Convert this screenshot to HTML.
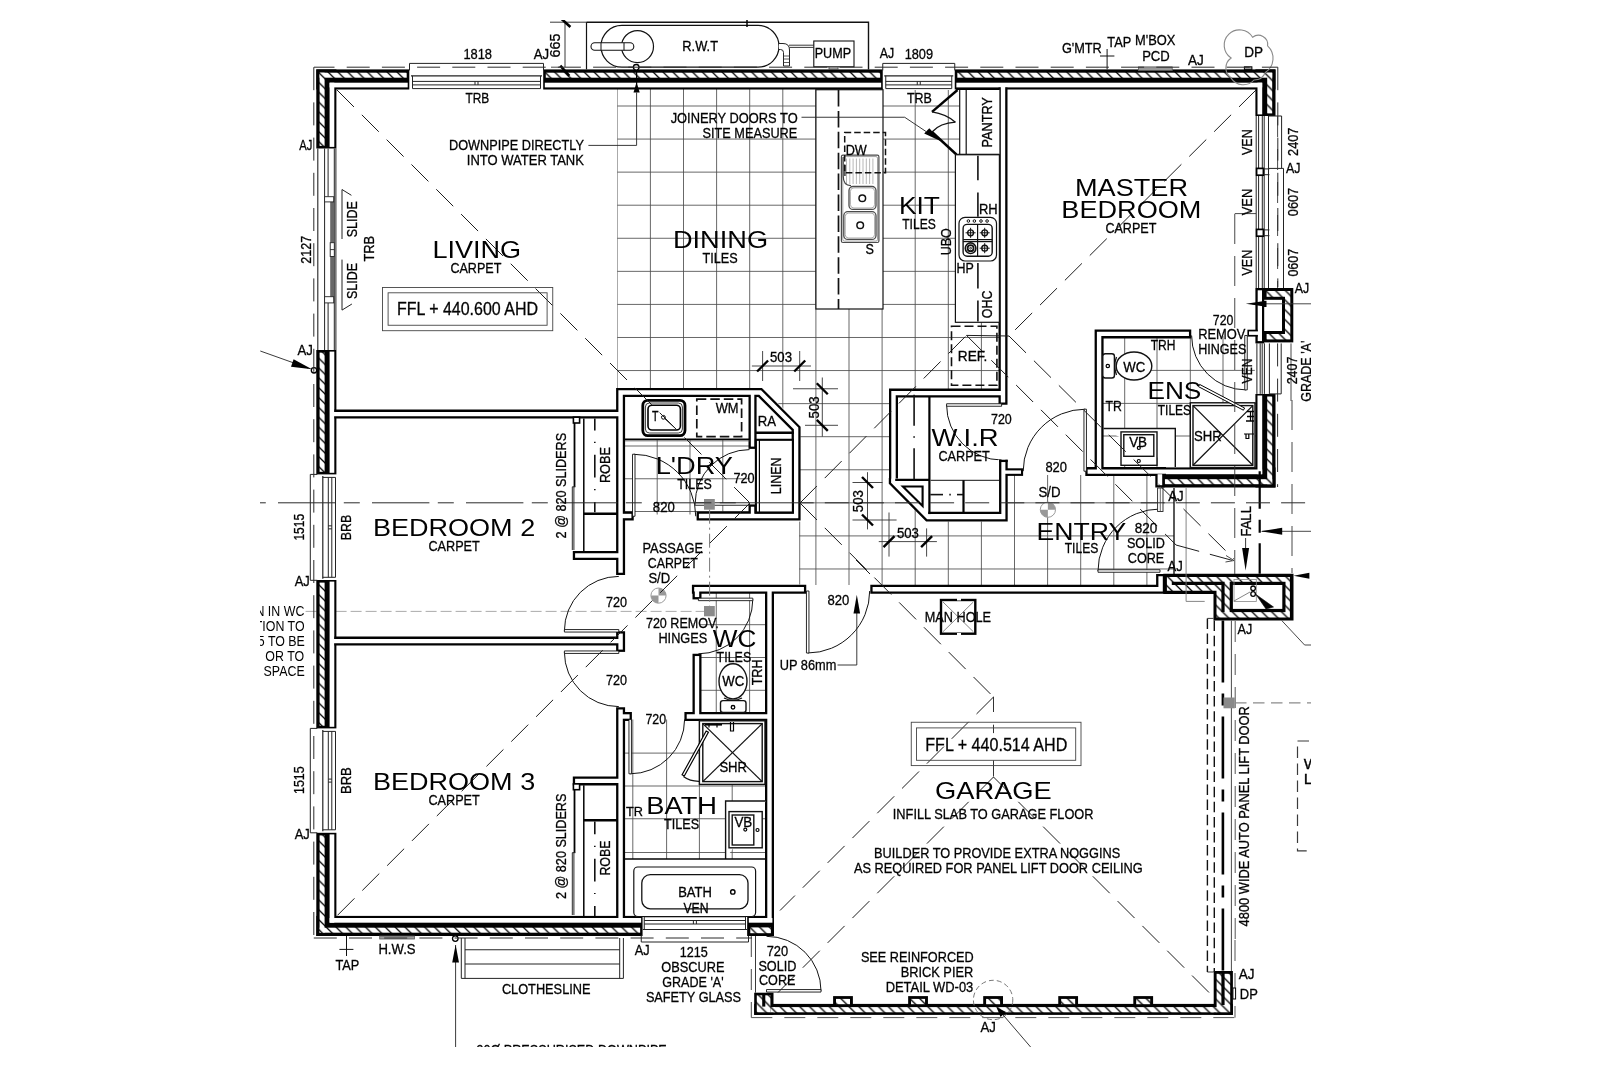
<!DOCTYPE html>
<html><head><meta charset="utf-8"><title>Floor Plan</title>
<style>
html,body{margin:0;padding:0;background:#fff;}
body{width:1600px;height:1067px;overflow:hidden;font-family:"Liberation Sans",sans-serif;}
svg{display:block;}
svg text{font-family:"Liberation Sans",sans-serif;}
</style></head><body>
<svg width="1600" height="1067" viewBox="0 0 1600 1067">
<defs>
<pattern id="h" width="9.85" height="9.85" patternUnits="userSpaceOnUse">
<rect width="9.85" height="9.85" fill="#fff"/>
<path d="M-1,-1 L10.85,10.85 M-1,8.85 L1,10.85 M8.85,-1 L10.85,1" stroke="#000" stroke-width="1.25" fill="none"/>
</pattern>
<clipPath id="clipAll"><rect x="260.2" y="20" width="1050.6" height="1027"/></clipPath>
<clipPath id="cm"><path d="M617.3,88 H999 V389 H889 V483.4 L926,520 H1007.2 V475 H1174 V585 H799.2 V520.6 L800.6,425.3 L763.1,388.75 H617.3 Z"/></clipPath>
<clipPath id="cl"><path d="M623.8,439.4 H749.6 V514.4 H623.8 Z"/></clipPath>
<clipPath id="ce"><path d="M1101.6,336.5 H1256.9 V468.4 H1101.6 Z"/></clipPath>
<clipPath id="cw"><path d="M699.4,592.25 H766 V712.8 H699.4 Z"/></clipPath>
<clipPath id="cb"><path d="M623.8,719.4 H766 V859 H623.8 Z"/></clipPath>
</defs>
<rect width="1600" height="1067" fill="#fff"/>
<g clip-path="url(#clipAll)" opacity="0.996">
<g clip-path="url(#cm)" stroke="#4c4c4c" stroke-width="0.85">
<line x1="617.3" y1="0" x2="617.3" y2="1067"/>
<line x1="650.4" y1="0" x2="650.4" y2="1067"/>
<line x1="683.5" y1="0" x2="683.5" y2="1067"/>
<line x1="716.6" y1="0" x2="716.6" y2="1067"/>
<line x1="749.7" y1="0" x2="749.7" y2="1067"/>
<line x1="782.8" y1="0" x2="782.8" y2="1067"/>
<line x1="815.9" y1="0" x2="815.9" y2="1067"/>
<line x1="849" y1="0" x2="849" y2="1067"/>
<line x1="882.1" y1="0" x2="882.1" y2="1067"/>
<line x1="915.2" y1="0" x2="915.2" y2="1067"/>
<line x1="948.3" y1="0" x2="948.3" y2="1067"/>
<line x1="981.4" y1="0" x2="981.4" y2="1067"/>
<line x1="1014.5" y1="0" x2="1014.5" y2="1067"/>
<line x1="1047.6" y1="0" x2="1047.6" y2="1067"/>
<line x1="1080.7" y1="0" x2="1080.7" y2="1067"/>
<line x1="1113.8" y1="0" x2="1113.8" y2="1067"/>
<line x1="1146.9" y1="0" x2="1146.9" y2="1067"/>
<line x1="1180" y1="0" x2="1180" y2="1067"/>
<line x1="0" y1="106" x2="1600" y2="106"/>
<line x1="0" y1="139.07" x2="1600" y2="139.07"/>
<line x1="0" y1="172.14" x2="1600" y2="172.14"/>
<line x1="0" y1="205.21" x2="1600" y2="205.21"/>
<line x1="0" y1="238.28" x2="1600" y2="238.28"/>
<line x1="0" y1="271.35" x2="1600" y2="271.35"/>
<line x1="0" y1="304.42" x2="1600" y2="304.42"/>
<line x1="0" y1="337.49" x2="1600" y2="337.49"/>
<line x1="0" y1="370.56" x2="1600" y2="370.56"/>
<line x1="0" y1="403.63" x2="1600" y2="403.63"/>
<line x1="0" y1="436.7" x2="1600" y2="436.7"/>
<line x1="0" y1="469.77" x2="1600" y2="469.77"/>
<line x1="0" y1="502.84" x2="1600" y2="502.84"/>
<line x1="0" y1="535.91" x2="1600" y2="535.91"/>
<line x1="0" y1="568.98" x2="1600" y2="568.98"/>
<line x1="0" y1="602.05" x2="1600" y2="602.05"/>
</g>
<g clip-path="url(#cl)" stroke="#4c4c4c" stroke-width="0.85">
<line x1="657.2" y1="0" x2="657.2" y2="1067"/>
<line x1="690" y1="0" x2="690" y2="1067"/>
<line x1="722.8" y1="0" x2="722.8" y2="1067"/>
<line x1="0" y1="446" x2="1600" y2="446"/>
<line x1="0" y1="478.75" x2="1600" y2="478.75"/>
<line x1="0" y1="511.5" x2="1600" y2="511.5"/>
</g>
<g clip-path="url(#ce)" stroke="#4c4c4c" stroke-width="0.85">
<line x1="1124.7" y1="0" x2="1124.7" y2="1067"/>
<line x1="1157" y1="0" x2="1157" y2="1067"/>
<line x1="1190.3" y1="0" x2="1190.3" y2="1067"/>
<line x1="1223" y1="0" x2="1223" y2="1067"/>
<line x1="0" y1="370.4" x2="1600" y2="370.4"/>
<line x1="0" y1="403.4" x2="1600" y2="403.4"/>
<line x1="0" y1="436" x2="1600" y2="436"/>
</g>
<g clip-path="url(#cw)" stroke="#4c4c4c" stroke-width="0.85">
<line x1="716.25" y1="0" x2="716.25" y2="1067"/>
<line x1="749.6" y1="0" x2="749.6" y2="1067"/>
<line x1="0" y1="624.7" x2="1600" y2="624.7"/>
<line x1="0" y1="657.5" x2="1600" y2="657.5"/>
<line x1="0" y1="690.3" x2="1600" y2="690.3"/>
</g>
<g clip-path="url(#cb)" stroke="#4c4c4c" stroke-width="0.85">
<line x1="632.8" y1="0" x2="632.8" y2="1067"/>
<line x1="666.6" y1="0" x2="666.6" y2="1067"/>
<line x1="699.4" y1="0" x2="699.4" y2="1067"/>
<line x1="732.2" y1="0" x2="732.2" y2="1067"/>
<line x1="0" y1="753.1" x2="1600" y2="753.1"/>
<line x1="0" y1="786" x2="1600" y2="786"/>
<line x1="0" y1="818.75" x2="1600" y2="818.75"/>
<line x1="0" y1="852.5" x2="1600" y2="852.5"/>
</g>
<line x1="305.6" y1="611.4" x2="704" y2="611.4" stroke="#a0a0a0" stroke-width="0.9" stroke-dasharray="11 4"/>
<rect x="316.3" y="69.4" width="93" height="20.1" stroke="none" stroke-width="0" fill="#000"/>
<rect x="543.2" y="69.4" width="339.55" height="20.1" stroke="none" stroke-width="0" fill="#000"/>
<rect x="954.75" y="69.4" width="320.75" height="20.1" stroke="none" stroke-width="0" fill="#000"/>
<rect x="316.3" y="69.4" width="20.1" height="79.1" stroke="none" stroke-width="0" fill="#000"/>
<rect x="316.3" y="350" width="20.1" height="124.4" stroke="none" stroke-width="0" fill="#000"/>
<rect x="316.3" y="580" width="20.1" height="148.4" stroke="none" stroke-width="0" fill="#000"/>
<rect x="316.3" y="832.8" width="20.1" height="103.2" stroke="none" stroke-width="0" fill="#000"/>
<rect x="316.3" y="915.9" width="326.45" height="20.1" stroke="none" stroke-width="0" fill="#000"/>
<rect x="747.2" y="915.9" width="26.8" height="20.1" stroke="none" stroke-width="0" fill="#000"/>
<rect x="1255.4" y="69.4" width="20.1" height="46.6" stroke="none" stroke-width="0" fill="#000"/>
<rect x="1255.4" y="393.9" width="20.1" height="93.6" stroke="none" stroke-width="0" fill="#000"/>
<rect x="1162.2" y="467.4" width="113.3" height="20.1" stroke="none" stroke-width="0" fill="#000"/>
<rect x="319.6" y="72.7" width="87.1" height="5" stroke="none" stroke-width="0" fill="url(#h)"/>
<rect x="545.8" y="72.7" width="334.35" height="5" stroke="none" stroke-width="0" fill="url(#h)"/>
<rect x="957.35" y="72.7" width="314.85" height="5" stroke="none" stroke-width="0" fill="url(#h)"/>
<rect x="319.6" y="72.7" width="5" height="73.2" stroke="none" stroke-width="0" fill="url(#h)"/>
<rect x="319.6" y="352.6" width="5" height="119.2" stroke="none" stroke-width="0" fill="url(#h)"/>
<rect x="319.6" y="582.6" width="5" height="143.2" stroke="none" stroke-width="0" fill="url(#h)"/>
<rect x="319.6" y="835.4" width="5" height="97.3" stroke="none" stroke-width="0" fill="url(#h)"/>
<rect x="319.6" y="927.7" width="320.55" height="5" stroke="none" stroke-width="0" fill="url(#h)"/>
<rect x="749.8" y="927.7" width="21.6" height="5" stroke="none" stroke-width="0" fill="url(#h)"/>
<rect x="1267.2" y="72.7" width="5" height="40.7" stroke="none" stroke-width="0" fill="url(#h)"/>
<rect x="1267.2" y="396.5" width="5" height="87.7" stroke="none" stroke-width="0" fill="url(#h)"/>
<rect x="1164.8" y="479.2" width="107.4" height="5" stroke="none" stroke-width="0" fill="url(#h)"/>
<rect x="329.6" y="82.7" width="78.1" height="4.7" stroke="none" stroke-width="0" fill="#fff"/>
<rect x="544.8" y="82.7" width="336.35" height="4.7" stroke="none" stroke-width="0" fill="#fff"/>
<rect x="956.35" y="82.7" width="305.85" height="4.7" stroke="none" stroke-width="0" fill="#fff"/>
<rect x="329.6" y="82.7" width="4.7" height="64.2" stroke="none" stroke-width="0" fill="#fff"/>
<rect x="329.6" y="351.6" width="4.7" height="121.2" stroke="none" stroke-width="0" fill="#fff"/>
<rect x="329.6" y="581.6" width="4.7" height="145.2" stroke="none" stroke-width="0" fill="#fff"/>
<rect x="329.6" y="834.4" width="4.7" height="88.3" stroke="none" stroke-width="0" fill="#fff"/>
<rect x="329.6" y="918" width="311.55" height="4.7" stroke="none" stroke-width="0" fill="#fff"/>
<rect x="748.8" y="918" width="23.6" height="4.7" stroke="none" stroke-width="0" fill="#fff"/>
<rect x="1257.5" y="82.7" width="4.7" height="31.7" stroke="none" stroke-width="0" fill="#fff"/>
<rect x="1257.5" y="395.5" width="4.7" height="78.7" stroke="none" stroke-width="0" fill="#fff"/>
<rect x="1163.8" y="469.5" width="98.4" height="4.7" stroke="none" stroke-width="0" fill="#fff"/>
<path d="M334.4,414.1 L620.6,414.1" stroke="#000" stroke-width="9" fill="none" stroke-linejoin="miter" stroke-miterlimit="10"/>
<path d="M620.6,575 L620.6,392.5 L760.1,392.5 L796.1,428.5 L796.1,516 L696.6,516" stroke="#000" stroke-width="9" fill="none" stroke-linejoin="miter" stroke-miterlimit="10"/>
<path d="M752.55,392.5 L752.55,448.9" stroke="#000" stroke-width="8.1" fill="none" stroke-linejoin="miter" stroke-miterlimit="10"/>
<path d="M752.55,516 L752.55,504.4" stroke="#000" stroke-width="8.1" fill="none" stroke-linejoin="miter" stroke-miterlimit="10"/>
<path d="M620.6,516 L633.75,516" stroke="#000" stroke-width="9" fill="none" stroke-linejoin="miter" stroke-miterlimit="10"/>
<path d="M572.8,555.5 L620.6,555.5" stroke="#000" stroke-width="9" fill="none" stroke-linejoin="miter" stroke-miterlimit="10"/>
<path d="M334.4,641.1 L620.6,641.1" stroke="#000" stroke-width="9" fill="none" stroke-linejoin="miter" stroke-miterlimit="10"/>
<path d="M620.6,631.25 L620.6,651.9" stroke="#000" stroke-width="9" fill="none" stroke-linejoin="miter" stroke-miterlimit="10"/>
<path d="M620.6,707.2 L620.6,917.9" stroke="#000" stroke-width="9" fill="none" stroke-linejoin="miter" stroke-miterlimit="10"/>
<path d="M572.8,780.9 L620.6,780.9" stroke="#000" stroke-width="9" fill="none" stroke-linejoin="miter" stroke-miterlimit="10"/>
<path d="M620.6,716.5 L631.9,716.5" stroke="#000" stroke-width="9" fill="none" stroke-linejoin="miter" stroke-miterlimit="10"/>
<path d="M691.9,589.2 L806.25,589.2" stroke="#000" stroke-width="9" fill="none" stroke-linejoin="miter" stroke-miterlimit="10"/>
<path d="M697,589.2 L697,599.4" stroke="#000" stroke-width="9" fill="none" stroke-linejoin="miter" stroke-miterlimit="10"/>
<path d="M697,653.75 L697,716.5" stroke="#000" stroke-width="9" fill="none" stroke-linejoin="miter" stroke-miterlimit="10"/>
<path d="M684.4,716.5 L769.5,716.5" stroke="#000" stroke-width="9" fill="none" stroke-linejoin="miter" stroke-miterlimit="10"/>
<path d="M769.5,589.2 L769.5,917.9" stroke="#000" stroke-width="9" fill="none" stroke-linejoin="miter" stroke-miterlimit="10"/>
<path d="M870.3,589.2 L1160.6,589.2 L1160.6,574" stroke="#000" stroke-width="9" fill="none" stroke-linejoin="miter" stroke-miterlimit="10"/>
<path d="M1003,87.4 L1003,404.7" stroke="#000" stroke-width="9" fill="none" stroke-linejoin="miter" stroke-miterlimit="10"/>
<path d="M1003,393.1 L893.5,393.1 L893.5,481" stroke="#000" stroke-width="9" fill="none" stroke-linejoin="miter" stroke-miterlimit="10"/>
<path d="M1191.25,333.9 L1099.1,333.9 L1099.1,471.6" stroke="#000" stroke-width="9" fill="none" stroke-linejoin="miter" stroke-miterlimit="10"/>
<path d="M1085.3,471.6 L1166,471.6" stroke="#000" stroke-width="9" fill="none" stroke-linejoin="miter" stroke-miterlimit="10"/>
<path d="M332,414.1 L620.6,414.1" stroke="#fff" stroke-width="4.4" fill="none" stroke-linejoin="miter" stroke-miterlimit="10"/>
<path d="M620.6,572.7 L620.6,392.5 L760.1,392.5 L796.1,428.5 L796.1,516 L698.9,516" stroke="#fff" stroke-width="4.4" fill="none" stroke-linejoin="miter" stroke-miterlimit="10"/>
<path d="M752.55,392.5 L752.55,446.6" stroke="#fff" stroke-width="3.5" fill="none" stroke-linejoin="miter" stroke-miterlimit="10"/>
<path d="M752.55,516 L752.55,506.7" stroke="#fff" stroke-width="3.5" fill="none" stroke-linejoin="miter" stroke-miterlimit="10"/>
<path d="M620.6,516 L631.45,516" stroke="#fff" stroke-width="4.4" fill="none" stroke-linejoin="miter" stroke-miterlimit="10"/>
<path d="M575.1,555.5 L620.6,555.5" stroke="#fff" stroke-width="4.4" fill="none" stroke-linejoin="miter" stroke-miterlimit="10"/>
<path d="M332,641.1 L620.6,641.1" stroke="#fff" stroke-width="4.4" fill="none" stroke-linejoin="miter" stroke-miterlimit="10"/>
<path d="M620.6,633.55 L620.6,649.6" stroke="#fff" stroke-width="4.4" fill="none" stroke-linejoin="miter" stroke-miterlimit="10"/>
<path d="M620.6,709.5 L620.6,920.3" stroke="#fff" stroke-width="4.4" fill="none" stroke-linejoin="miter" stroke-miterlimit="10"/>
<path d="M575.1,780.9 L620.6,780.9" stroke="#fff" stroke-width="4.4" fill="none" stroke-linejoin="miter" stroke-miterlimit="10"/>
<path d="M620.6,716.5 L629.6,716.5" stroke="#fff" stroke-width="4.4" fill="none" stroke-linejoin="miter" stroke-miterlimit="10"/>
<path d="M694.2,589.2 L803.95,589.2" stroke="#fff" stroke-width="4.4" fill="none" stroke-linejoin="miter" stroke-miterlimit="10"/>
<path d="M697,589.2 L697,597.1" stroke="#fff" stroke-width="4.4" fill="none" stroke-linejoin="miter" stroke-miterlimit="10"/>
<path d="M697,656.05 L697,716.5" stroke="#fff" stroke-width="4.4" fill="none" stroke-linejoin="miter" stroke-miterlimit="10"/>
<path d="M686.7,716.5 L769.5,716.5" stroke="#fff" stroke-width="4.4" fill="none" stroke-linejoin="miter" stroke-miterlimit="10"/>
<path d="M769.5,589.2 L769.5,920.3" stroke="#fff" stroke-width="4.4" fill="none" stroke-linejoin="miter" stroke-miterlimit="10"/>
<path d="M872.6,589.2 L1160.6,589.2 L1160.6,576.3" stroke="#fff" stroke-width="4.4" fill="none" stroke-linejoin="miter" stroke-miterlimit="10"/>
<path d="M1003,85 L1003,402.4" stroke="#fff" stroke-width="4.4" fill="none" stroke-linejoin="miter" stroke-miterlimit="10"/>
<path d="M1003,393.1 L893.5,393.1 L893.5,481" stroke="#fff" stroke-width="4.4" fill="none" stroke-linejoin="miter" stroke-miterlimit="10"/>
<path d="M1188.95,333.9 L1099.1,333.9 L1099.1,471.6" stroke="#fff" stroke-width="4.4" fill="none" stroke-linejoin="miter" stroke-miterlimit="10"/>
<path d="M1087.6,471.6 L1166,471.6" stroke="#fff" stroke-width="4.4" fill="none" stroke-linejoin="miter" stroke-miterlimit="10"/>
<rect x="411" y="68.9" width="131" height="21.1" stroke="none" stroke-width="0" fill="#fff"/>
<line x1="409.5" y1="63.4" x2="543.5" y2="63.4" stroke="#222" stroke-width="1"/>
<line x1="409.5" y1="63.4" x2="409.5" y2="70.4" stroke="#222" stroke-width="1"/>
<line x1="543.5" y1="63.4" x2="543.5" y2="70.4" stroke="#222" stroke-width="1"/>
<line x1="411" y1="75.9" x2="542" y2="75.9" stroke="#222" stroke-width="1.2"/>
<line x1="412.5" y1="81.4" x2="540.5" y2="81.4" stroke="#222" stroke-width="1"/>
<line x1="412.5" y1="84.9" x2="540.5" y2="84.9" stroke="#222" stroke-width="1"/>
<line x1="412.5" y1="88.6" x2="540.5" y2="88.6" stroke="#222" stroke-width="1"/>
<line x1="412.5" y1="75.9" x2="412.5" y2="88.6" stroke="#222" stroke-width="1"/>
<line x1="540.5" y1="75.9" x2="540.5" y2="88.6" stroke="#222" stroke-width="1"/>
<line x1="475" y1="81.4" x2="475" y2="84.9" stroke="#222" stroke-width="1"/>
<line x1="478" y1="81.4" x2="478" y2="84.9" stroke="#222" stroke-width="1"/>
<rect x="884.25" y="68.9" width="69" height="21.1" stroke="none" stroke-width="0" fill="#fff"/>
<line x1="882.75" y1="63.4" x2="954.75" y2="63.4" stroke="#222" stroke-width="1"/>
<line x1="882.75" y1="63.4" x2="882.75" y2="70.4" stroke="#222" stroke-width="1"/>
<line x1="954.75" y1="63.4" x2="954.75" y2="70.4" stroke="#222" stroke-width="1"/>
<line x1="884.25" y1="75.9" x2="953.25" y2="75.9" stroke="#222" stroke-width="1.2"/>
<line x1="885.75" y1="81.4" x2="951.75" y2="81.4" stroke="#222" stroke-width="1"/>
<line x1="885.75" y1="84.9" x2="951.75" y2="84.9" stroke="#222" stroke-width="1"/>
<line x1="885.75" y1="88.6" x2="951.75" y2="88.6" stroke="#222" stroke-width="1"/>
<line x1="885.75" y1="75.9" x2="885.75" y2="88.6" stroke="#222" stroke-width="1"/>
<line x1="951.75" y1="75.9" x2="951.75" y2="88.6" stroke="#222" stroke-width="1"/>
<line x1="917.25" y1="81.4" x2="917.25" y2="84.9" stroke="#222" stroke-width="1"/>
<line x1="920.25" y1="81.4" x2="920.25" y2="84.9" stroke="#222" stroke-width="1"/>
<rect x="315.8" y="475.9" width="21.1" height="102.9" stroke="none" stroke-width="0" fill="#fff"/>
<line x1="310.3" y1="474.4" x2="310.3" y2="580.3" stroke="#222" stroke-width="1"/>
<line x1="310.3" y1="474.4" x2="317.3" y2="474.4" stroke="#222" stroke-width="1"/>
<line x1="310.3" y1="580.3" x2="317.3" y2="580.3" stroke="#222" stroke-width="1"/>
<line x1="322.8" y1="475.9" x2="322.8" y2="578.8" stroke="#222" stroke-width="1.2"/>
<line x1="328.3" y1="477.4" x2="328.3" y2="577.3" stroke="#222" stroke-width="1"/>
<line x1="331.8" y1="477.4" x2="331.8" y2="577.3" stroke="#222" stroke-width="1"/>
<line x1="335.5" y1="477.4" x2="335.5" y2="577.3" stroke="#222" stroke-width="1"/>
<line x1="322.8" y1="477.4" x2="335.5" y2="477.4" stroke="#222" stroke-width="1"/>
<line x1="322.8" y1="577.3" x2="335.5" y2="577.3" stroke="#222" stroke-width="1"/>
<line x1="328.3" y1="525.85" x2="331.8" y2="525.85" stroke="#222" stroke-width="1"/>
<line x1="328.3" y1="528.85" x2="331.8" y2="528.85" stroke="#222" stroke-width="1"/>
<rect x="315.8" y="729.9" width="21.1" height="101.4" stroke="none" stroke-width="0" fill="#fff"/>
<line x1="310.3" y1="728.4" x2="310.3" y2="832.8" stroke="#222" stroke-width="1"/>
<line x1="310.3" y1="728.4" x2="317.3" y2="728.4" stroke="#222" stroke-width="1"/>
<line x1="310.3" y1="832.8" x2="317.3" y2="832.8" stroke="#222" stroke-width="1"/>
<line x1="322.8" y1="729.9" x2="322.8" y2="831.3" stroke="#222" stroke-width="1.2"/>
<line x1="328.3" y1="731.4" x2="328.3" y2="829.8" stroke="#222" stroke-width="1"/>
<line x1="331.8" y1="731.4" x2="331.8" y2="829.8" stroke="#222" stroke-width="1"/>
<line x1="335.5" y1="731.4" x2="335.5" y2="829.8" stroke="#222" stroke-width="1"/>
<line x1="322.8" y1="731.4" x2="335.5" y2="731.4" stroke="#222" stroke-width="1"/>
<line x1="322.8" y1="829.8" x2="335.5" y2="829.8" stroke="#222" stroke-width="1"/>
<line x1="328.3" y1="779.1" x2="331.8" y2="779.1" stroke="#222" stroke-width="1"/>
<line x1="328.3" y1="782.1" x2="331.8" y2="782.1" stroke="#222" stroke-width="1"/>
<rect x="642.75" y="915.4" width="104.25" height="21.1" stroke="none" stroke-width="0" fill="#fff"/>
<line x1="641.25" y1="942" x2="748.5" y2="942" stroke="#222" stroke-width="1"/>
<line x1="641.25" y1="942" x2="641.25" y2="935" stroke="#222" stroke-width="1"/>
<line x1="748.5" y1="942" x2="748.5" y2="935" stroke="#222" stroke-width="1"/>
<line x1="642.75" y1="929.5" x2="747" y2="929.5" stroke="#222" stroke-width="1.2"/>
<line x1="644.25" y1="924" x2="745.5" y2="924" stroke="#222" stroke-width="1"/>
<line x1="644.25" y1="920.5" x2="745.5" y2="920.5" stroke="#222" stroke-width="1"/>
<line x1="644.25" y1="916.8" x2="745.5" y2="916.8" stroke="#222" stroke-width="1"/>
<line x1="644.25" y1="929.5" x2="644.25" y2="916.8" stroke="#222" stroke-width="1"/>
<line x1="745.5" y1="929.5" x2="745.5" y2="916.8" stroke="#222" stroke-width="1"/>
<line x1="693.38" y1="924" x2="693.38" y2="920.5" stroke="#222" stroke-width="1"/>
<line x1="696.38" y1="924" x2="696.38" y2="920.5" stroke="#222" stroke-width="1"/>
<rect x="316" y="150" width="21" height="199" stroke="none" stroke-width="0" fill="#fff"/>
<line x1="317.8" y1="148.5" x2="317.8" y2="350" stroke="#222" stroke-width="1.1"/>
<line x1="324.6" y1="148.5" x2="324.6" y2="350" stroke="#222" stroke-width="1"/>
<line x1="334.3" y1="148.5" x2="334.3" y2="350" stroke="#222" stroke-width="1"/>
<line x1="335.9" y1="148.5" x2="335.9" y2="350" stroke="#222" stroke-width="1"/>
<line x1="328.1" y1="148.5" x2="328.1" y2="196.7" stroke="#222" stroke-width="1"/>
<line x1="328.1" y1="302.9" x2="328.1" y2="350" stroke="#222" stroke-width="1"/>
<rect x="330.2" y="199.8" width="4.1" height="99" stroke="none" stroke-width="0" fill="#666"/>
<rect x="324.6" y="196.7" width="9.1" height="5.2" stroke="#222" stroke-width="0.9" fill="#fff"/>
<rect x="330.2" y="242.7" width="4.1" height="13.8" stroke="#222" stroke-width="0.9" fill="#fff"/>
<rect x="324.6" y="296.7" width="9.1" height="6.2" stroke="#222" stroke-width="0.9" fill="#fff"/>
<line x1="330.2" y1="249.6" x2="334.3" y2="249.6" stroke="#222" stroke-width="0.9"/>
<line x1="342" y1="189.5" x2="342" y2="239" stroke="#222" stroke-width="1"/>
<line x1="342" y1="189.5" x2="351.4" y2="195.3" stroke="#222" stroke-width="1"/>
<line x1="342" y1="259.6" x2="342" y2="310.1" stroke="#222" stroke-width="1"/>
<line x1="342" y1="310.1" x2="351.9" y2="304" stroke="#222" stroke-width="1"/>
<rect x="1254.8" y="117" width="21.7" height="170" stroke="none" stroke-width="0" fill="#fff"/>
<line x1="1256.2" y1="116" x2="1256.2" y2="288" stroke="#222" stroke-width="1"/>
<line x1="1258.6" y1="116" x2="1258.6" y2="288" stroke="#222" stroke-width="1"/>
<line x1="1262.3" y1="116" x2="1262.3" y2="288" stroke="#222" stroke-width="1"/>
<line x1="1264.2" y1="116" x2="1264.2" y2="288" stroke="#222" stroke-width="1"/>
<line x1="1268.5" y1="116" x2="1268.5" y2="288" stroke="#222" stroke-width="1"/>
<line x1="1268.5" y1="116" x2="1281.6" y2="116" stroke="#222" stroke-width="1"/>
<line x1="1281.6" y1="116" x2="1281.6" y2="168.4" stroke="#222" stroke-width="1"/>
<line x1="1268.5" y1="168.4" x2="1283.5" y2="168.4" stroke="#222" stroke-width="1"/>
<line x1="1283.5" y1="168.4" x2="1283.5" y2="288" stroke="#222" stroke-width="1"/>
<line x1="1277.6" y1="116" x2="1277.6" y2="288" stroke="#333" stroke-width="0.9" stroke-dasharray="21 12"/>
<rect x="1256.6" y="168.4" width="6.8" height="6.8" stroke="#000" stroke-width="1.7" fill="#fff"/>
<line x1="1263.4" y1="168.9" x2="1269.4" y2="168.9" stroke="#222" stroke-width="1"/>
<line x1="1263.4" y1="174.7" x2="1269.4" y2="174.7" stroke="#222" stroke-width="1"/>
<rect x="1256.6" y="229.4" width="6.8" height="6.8" stroke="#000" stroke-width="1.7" fill="#fff"/>
<line x1="1263.4" y1="229.9" x2="1269.4" y2="229.9" stroke="#222" stroke-width="1"/>
<line x1="1263.4" y1="235.7" x2="1269.4" y2="235.7" stroke="#222" stroke-width="1"/>
<rect x="1254.8" y="344" width="21.7" height="49.5" stroke="none" stroke-width="0" fill="#fff"/>
<line x1="1256.9" y1="343.4" x2="1256.9" y2="393.9" stroke="#222" stroke-width="1"/>
<line x1="1260.2" y1="343.4" x2="1260.2" y2="393.9" stroke="#222" stroke-width="1"/>
<line x1="1262.2" y1="343.4" x2="1262.2" y2="393.9" stroke="#222" stroke-width="1"/>
<line x1="1264.4" y1="343.4" x2="1264.4" y2="393.9" stroke="#222" stroke-width="1"/>
<line x1="1269.4" y1="343.4" x2="1269.4" y2="393.9" stroke="#222" stroke-width="1"/>
<line x1="1269.4" y1="393.9" x2="1281.2" y2="393.9" stroke="#222" stroke-width="1"/>
<line x1="1281.2" y1="343.4" x2="1281.2" y2="393.9" stroke="#222" stroke-width="1"/>
<line x1="1291" y1="343.4" x2="1291" y2="401" stroke="#333" stroke-width="0.9"/>
<line x1="1277.6" y1="343.4" x2="1277.6" y2="487" stroke="#2a2a2a" stroke-width="1" stroke-dasharray="23 12.2"/>
<path d="M633.75,454.25 A62,62 0 0 1 695.75,516.25" stroke="#111" stroke-width="1" fill="none"/>
<path d="M635,516.25 L635,454.25 L632.5,454.25 L632.5,516.25 Z" stroke="#111" stroke-width="0.9" fill="#fff"/>
<path d="M695.1,504 A54.4,54.4 0 0 1 749.5,449.6" stroke="#111" stroke-width="1" fill="none"/>
<path d="M749.5,502.75 L695.1,502.75 L695.1,505.25 L749.5,505.25 Z" stroke="#111" stroke-width="0.9" fill="#fff"/>
<path d="M564.4,630.8 A54.4,54.4 0 0 1 618.8,576.4" stroke="#111" stroke-width="1" fill="none"/>
<path d="M618.8,629.55 L564.4,629.55 L564.4,632.05 L618.8,632.05 Z" stroke="#111" stroke-width="0.9" fill="#fff"/>
<path d="M564.4,652.2 A54.4,54.4 0 0 0 618.8,706.6" stroke="#111" stroke-width="1" fill="none"/>
<path d="M618.8,650.95 L564.4,650.95 L564.4,653.45 L618.8,653.45 Z" stroke="#111" stroke-width="0.9" fill="#fff"/>
<path d="M630.2,773.8 A54.4,54.4 0 0 0 684.6,719.4" stroke="#111" stroke-width="1" fill="none"/>
<path d="M628.95,719.4 L628.95,773.8 L631.45,773.8 L631.45,719.4 Z" stroke="#111" stroke-width="0.9" fill="#fff"/>
<path d="M752.8,599.4 A54.4,54.4 0 0 1 698.4,653.8" stroke="#111" stroke-width="1" fill="none"/>
<path d="M698.4,600.65 L752.8,600.65 L752.8,598.15 L698.4,598.15 Z" stroke="#111" stroke-width="0.9" fill="#fff"/>
<path d="M807.7,653 A62,62 0 0 0 869.7,591" stroke="#111" stroke-width="1" fill="none"/>
<path d="M806.45,591 L806.45,653 L808.95,653 L808.95,591 Z" stroke="#111" stroke-width="0.9" fill="#fff"/>
<path d="M946.6,405 A55,55 0 0 0 1001.6,460" stroke="#111" stroke-width="1" fill="none"/>
<path d="M1001.6,403.75 L946.6,403.75 L946.6,406.25 L1001.6,406.25 Z" stroke="#111" stroke-width="0.9" fill="#fff"/>
<path d="M1085.2,409.2 A62,62 0 0 0 1023.2,471.2" stroke="#111" stroke-width="1" fill="none"/>
<path d="M1086.45,471.2 L1086.45,409.2 L1083.95,409.2 L1083.95,471.2 Z" stroke="#111" stroke-width="0.9" fill="#fff"/>
<path d="M1246,389.9 A54.4,54.4 0 0 1 1191.6,335.5" stroke="#111" stroke-width="1" fill="none"/>
<path d="M1244.75,335.5 L1244.75,389.9 L1247.25,389.9 L1247.25,335.5 Z" stroke="#111" stroke-width="0.9" fill="#fff"/>
<path d="M1098,571 A62,62 0 0 1 1160,509" stroke="#111" stroke-width="1" fill="none"/>
<path d="M1160,569.75 L1098,569.75 L1098,572.25 L1160,572.25 Z" stroke="#111" stroke-width="0.9" fill="#fff"/>
<path d="M821,990.8 A54.5,54.5 0 0 0 766.5,936.3" stroke="#111" stroke-width="1" fill="none"/>
<path d="M766.5,992.05 L821,992.05 L821,989.55 L766.5,989.55 Z" stroke="#111" stroke-width="0.9" fill="#fff"/>
<rect x="754.2" y="1003.9" width="478.7" height="11" stroke="none" stroke-width="0" fill="#000"/>
<rect x="756.8" y="1007.1" width="473.4" height="5.2" stroke="none" stroke-width="0" fill="url(#h)"/>
<rect x="833.1" y="996.1" width="19.8" height="8.9" stroke="none" stroke-width="0" fill="#000"/>
<rect x="836" y="998.9" width="14" height="5.3" stroke="none" stroke-width="0" fill="url(#h)"/>
<rect x="908.15" y="996.1" width="19.8" height="8.9" stroke="none" stroke-width="0" fill="#000"/>
<rect x="911.05" y="998.9" width="14" height="5.3" stroke="none" stroke-width="0" fill="url(#h)"/>
<rect x="983.2" y="996.1" width="19.8" height="8.9" stroke="none" stroke-width="0" fill="#000"/>
<rect x="986.1" y="998.9" width="14" height="5.3" stroke="none" stroke-width="0" fill="url(#h)"/>
<rect x="1058.25" y="996.1" width="19.8" height="8.9" stroke="none" stroke-width="0" fill="#000"/>
<rect x="1061.15" y="998.9" width="14" height="5.3" stroke="none" stroke-width="0" fill="url(#h)"/>
<rect x="1133.3" y="996.1" width="19.8" height="8.9" stroke="none" stroke-width="0" fill="#000"/>
<rect x="1136.2" y="998.9" width="14" height="5.3" stroke="none" stroke-width="0" fill="url(#h)"/>
<rect x="754.2" y="992.7" width="19.3" height="22.2" stroke="none" stroke-width="0" fill="#000"/>
<rect x="756.8" y="995.3" width="13.6" height="17" stroke="none" stroke-width="0" fill="url(#h)"/>
<rect x="762.2" y="994.7" width="3.1" height="11.9" stroke="none" stroke-width="0" fill="#000"/>
<rect x="770.4" y="1007.1" width="4.6" height="5.2" stroke="none" stroke-width="0" fill="url(#h)"/>
<rect x="1213.7" y="971" width="19.2" height="43.9" stroke="none" stroke-width="0" fill="#000"/>
<rect x="1216.6" y="973.8" width="13.6" height="38.5" stroke="none" stroke-width="0" fill="url(#h)"/>
<rect x="1221.4" y="973" width="3.2" height="32" stroke="none" stroke-width="0" fill="#000"/>
<rect x="1210" y="1007.1" width="7" height="5.2" stroke="none" stroke-width="0" fill="url(#h)"/>
<line x1="751.3" y1="936" x2="751.3" y2="1017.6" stroke="#333" stroke-width="0.9" stroke-dasharray="21 12"/>
<line x1="751.3" y1="1017.6" x2="1235" y2="1017.6" stroke="#555" stroke-width="1" stroke-dasharray="21 12"/>
<line x1="1235" y1="940" x2="1235" y2="1017.6" stroke="#555" stroke-width="1" stroke-dasharray="21 12"/>
<line x1="755.5" y1="935.5" x2="755.5" y2="992.7" stroke="#222" stroke-width="0.9"/>
<rect x="747.7" y="924.6" width="25.8" height="11.2" stroke="none" stroke-width="0" fill="#000"/>
<rect x="750.3" y="927.4" width="20.6" height="5.8" stroke="none" stroke-width="0" fill="url(#h)"/>
<path d="M1163.3,573.8 H1293.5 V620.6 H1213.5 V593.9 H1163.3 Z" stroke="none" stroke-width="0" fill="#000"/>
<path d="M1166.9,577 H1289.9 V617.4 H1216.5 V590.7 H1166.9 Z" stroke="none" stroke-width="0" fill="url(#h)"/>
<path d="M1171.8,583.3 H1223 V612" stroke="#000" stroke-width="3.2" fill="none"/>
<rect x="1229.7" y="581.8" width="55.8" height="30.3" stroke="none" stroke-width="0" fill="#000"/>
<rect x="1232.9" y="585" width="49.4" height="23.9" stroke="none" stroke-width="0" fill="#fff"/>
<rect x="1234" y="579.5" width="22.3" height="21.9" stroke="#888" stroke-width="0.8" fill="none"/>
<line x1="1234" y1="601" x2="1250" y2="592" stroke="#666" stroke-width="0.8"/>
<circle cx="1253.1" cy="588.3" r="2.3" stroke="#000" stroke-width="1.3" fill="#fff"/>
<circle cx="1253.1" cy="594" r="2.3" stroke="#000" stroke-width="1.3" fill="#fff"/>
<path d="M1256,594.5 L1273.5,607 L1266,609 Z" stroke="#000" stroke-width="0.6" fill="#000"/>
<path d="M1293.5,575.7 L1309.4,572.7 L1309.4,578.7 Z" stroke="none" stroke-width="0" fill="#000"/>
<path d="M1281.8,620.6 L1304.6,645 H1311" stroke="#333" stroke-width="0.9" fill="none"/>
<path d="M1186.1,488 V601.4 H1204.7" stroke="#777" stroke-width="0.9" fill="none"/>
<line x1="1207.4" y1="618.4" x2="1207.4" y2="972" stroke="#111" stroke-width="1.4" stroke-dasharray="10.5 4.6"/>
<line x1="1214.3" y1="620.6" x2="1214.3" y2="972" stroke="#111" stroke-width="1.4" stroke-dasharray="10.5 4.6"/>
<line x1="1207.4" y1="618.4" x2="1213.5" y2="618.4" stroke="#222" stroke-width="0.9"/>
<line x1="1207.4" y1="972" x2="1213.7" y2="972" stroke="#222" stroke-width="0.9"/>
<line x1="1222.9" y1="620.4" x2="1222.9" y2="971" stroke="#000" stroke-width="2.6" stroke-dasharray="62 11 12 11"/>
<line x1="1231.4" y1="620.6" x2="1231.4" y2="971" stroke="#333" stroke-width="0.9"/>
<line x1="1235.2" y1="621" x2="1235.2" y2="940" stroke="#555" stroke-width="1" stroke-dasharray="21 12"/>
<rect x="1223.5" y="697.5" width="11.3" height="10.8" stroke="none" stroke-width="0" fill="#8a8a8a"/>
<line x1="1235" y1="702.9" x2="1311" y2="702.9" stroke="#8a8a8a" stroke-width="1.1" stroke-dasharray="11.5 6.5"/>
<path d="M1311,741 H1297.5 V850.8 H1311" stroke="#3a3a3a" stroke-width="1.2" fill="none" stroke-dasharray="11.5 5.5" stroke-dashoffset="-2"/>
<rect x="1263.6" y="288" width="29.7" height="54.4" stroke="none" stroke-width="0" fill="#000"/>
<rect x="1266.6" y="291" width="23.7" height="48.4" stroke="none" stroke-width="0" fill="url(#h)"/>
<rect x="1266" y="296.8" width="19" height="37.2" stroke="none" stroke-width="0" fill="#000"/>
<rect x="1263" y="299.8" width="19" height="31.2" stroke="none" stroke-width="0" fill="#fff"/>
<rect x="1255.4" y="288" width="8.8" height="55.4" stroke="none" stroke-width="0" fill="#000"/>
<rect x="1257.7" y="290.3" width="4.3" height="50.8" stroke="none" stroke-width="0" fill="#fff"/>
<rect x="1247.4" y="329.7" width="10.3" height="6.9" stroke="none" stroke-width="0" fill="#000"/>
<rect x="1249" y="331.4" width="10" height="3.5" stroke="none" stroke-width="0" fill="#fff"/>
<line x1="1252" y1="303.8" x2="1311" y2="303.8" stroke="#333" stroke-width="0.9"/>
<path d="M1245.8,303.8 L1264.5,301 L1264.5,306.6 Z" stroke="none" stroke-width="0" fill="#000"/>
<rect x="1262.5" y="300.8" width="4" height="6.2" stroke="none" stroke-width="0" fill="#000"/>
<rect x="1155.3" y="474" width="9.3" height="13.5" stroke="none" stroke-width="0" fill="#000"/>
<rect x="1157.6" y="474.2" width="4.6" height="11" stroke="none" stroke-width="0" fill="#fff"/>
<rect x="815.9" y="89.7" width="67.1" height="219.3" stroke="#111" stroke-width="1.2" fill="#fff"/>
<line x1="838.5" y1="90" x2="838.5" y2="309" stroke="#111" stroke-width="1.7" stroke-dasharray="16.5 4.4"/>
<line x1="801.5" y1="117.25" x2="904.7" y2="117.25" stroke="#222" stroke-width="0.9"/>
<line x1="904.7" y1="117.25" x2="926" y2="131.5" stroke="#222" stroke-width="0.9"/>
<path d="M941.5,141.5 L924.2,133.6 L929.3,128.3 Z" stroke="none" stroke-width="0" fill="#000"/>
<rect x="841.4" y="155.2" width="37.5" height="87.3" stroke="#4a4a4a" stroke-width="1.2" fill="#fff" rx="1.5"/>
<rect x="842.8" y="156.6" width="34.7" height="84.5" stroke="#888" stroke-width="0.8" fill="none" rx="1.5"/>
<line x1="846.5" y1="158.5" x2="846.5" y2="184" stroke="#999" stroke-width="0.7"/>
<line x1="849.8" y1="158.5" x2="849.8" y2="184" stroke="#999" stroke-width="0.7"/>
<line x1="853.1" y1="158.5" x2="853.1" y2="184" stroke="#999" stroke-width="0.7"/>
<line x1="856.4" y1="158.5" x2="856.4" y2="184" stroke="#999" stroke-width="0.7"/>
<line x1="859.7" y1="158.5" x2="859.7" y2="184" stroke="#999" stroke-width="0.7"/>
<line x1="863" y1="158.5" x2="863" y2="184" stroke="#999" stroke-width="0.7"/>
<line x1="866.3" y1="158.5" x2="866.3" y2="184" stroke="#999" stroke-width="0.7"/>
<line x1="869.6" y1="158.5" x2="869.6" y2="184" stroke="#999" stroke-width="0.7"/>
<line x1="872.9" y1="158.5" x2="872.9" y2="184" stroke="#999" stroke-width="0.7"/>
<path d="M843.2,157 V176 Q843.2,185.6 851,185.6" stroke="#444" stroke-width="1.2" fill="none"/>
<line x1="844.9" y1="165" x2="844.9" y2="176" stroke="#444" stroke-width="1.6"/>
<rect x="849" y="186.5" width="27" height="22.9" stroke="#4a4a4a" stroke-width="1.3" fill="none" rx="4"/>
<rect x="850.4" y="187.9" width="24.2" height="20.1" stroke="#888" stroke-width="0.7" fill="none" rx="3.5"/>
<rect x="843.8" y="211.7" width="32.2" height="27.7" stroke="#4a4a4a" stroke-width="1.3" fill="none" rx="4"/>
<rect x="845.2" y="213.1" width="29.4" height="24.9" stroke="#888" stroke-width="0.7" fill="none" rx="3.5"/>
<circle cx="862.3" cy="198.2" r="3.3" stroke="#111" stroke-width="1.5" fill="none"/>
<circle cx="860.2" cy="225.3" r="3.3" stroke="#111" stroke-width="1.5" fill="none"/>
<rect x="844.7" y="132.6" width="40.8" height="40.1" stroke="#111" stroke-width="1.5" fill="none" stroke-dasharray="6.5 3"/>
<rect x="959.7" y="89.7" width="39.7" height="65.05" stroke="none" stroke-width="0" fill="#fff"/>
<path d="M957.5,90 L932,111.9" stroke="#000" stroke-width="2.4" fill="none"/>
<path d="M932,111.9 Q946,114 955.4,122.2" stroke="#111" stroke-width="1.3" fill="none"/>
<path d="M955.4,122.2 Q940,123 932,132" stroke="#111" stroke-width="1.3" fill="none"/>
<path d="M932,132 L956.4,154.5" stroke="#000" stroke-width="2.4" fill="none"/>
<line x1="959.7" y1="90" x2="959.7" y2="154.7" stroke="#111" stroke-width="1.2"/>
<line x1="966.2" y1="90" x2="966.2" y2="154.7" stroke="#111" stroke-width="1.2"/>
<line x1="956.3" y1="154.75" x2="999.4" y2="154.75" stroke="#000" stroke-width="2.2"/>
<line x1="956.3" y1="89.2" x2="999.4" y2="89.2" stroke="#000" stroke-width="1.6"/>
<rect x="955.4" y="154.75" width="44" height="167.55" stroke="#111" stroke-width="1.2" fill="#fff"/>
<line x1="977.9" y1="155.8" x2="977.9" y2="180.2" stroke="#111" stroke-width="1.6"/>
<line x1="977.9" y1="192.4" x2="977.9" y2="216.8" stroke="#111" stroke-width="1.6"/>
<line x1="977.9" y1="263" x2="977.9" y2="288.5" stroke="#111" stroke-width="1.6"/>
<line x1="977.9" y1="300.5" x2="977.9" y2="321.5" stroke="#111" stroke-width="1.6"/>
<rect x="959" y="217.3" width="37.5" height="43.7" stroke="#111" stroke-width="1.2" fill="#fff" rx="6"/>
<rect x="963.1" y="224.4" width="29.1" height="31.9" stroke="#111" stroke-width="1.4" fill="none" rx="4"/>
<line x1="963.1" y1="239.6" x2="992.2" y2="239.6" stroke="#111" stroke-width="1.2"/>
<line x1="963.1" y1="241.6" x2="992.2" y2="241.6" stroke="#111" stroke-width="1.2"/>
<line x1="977.6" y1="224.4" x2="977.6" y2="256.3" stroke="#111" stroke-width="1.2"/>
<circle cx="968.4" cy="221" r="1.3" stroke="#111" stroke-width="1" fill="none"/>
<circle cx="974.4" cy="221" r="1.3" stroke="#111" stroke-width="1" fill="none"/>
<circle cx="981" cy="221" r="1.3" stroke="#111" stroke-width="1" fill="none"/>
<circle cx="987.1" cy="221" r="1.3" stroke="#111" stroke-width="1" fill="none"/>
<circle cx="970.6" cy="232.8" r="2.9" stroke="#111" stroke-width="1.4" fill="none"/>
<line x1="965.6" y1="232.8" x2="975.6" y2="232.8" stroke="#111" stroke-width="1"/>
<line x1="970.6" y1="227.8" x2="970.6" y2="237.8" stroke="#111" stroke-width="1"/>
<circle cx="984.7" cy="232.8" r="2.9" stroke="#111" stroke-width="1.4" fill="none"/>
<line x1="979.7" y1="232.8" x2="989.7" y2="232.8" stroke="#111" stroke-width="1"/>
<line x1="984.7" y1="227.8" x2="984.7" y2="237.8" stroke="#111" stroke-width="1"/>
<circle cx="984.7" cy="248.2" r="2.9" stroke="#111" stroke-width="1.4" fill="none"/>
<line x1="979.7" y1="248.2" x2="989.7" y2="248.2" stroke="#111" stroke-width="1"/>
<line x1="984.7" y1="243.2" x2="984.7" y2="253.2" stroke="#111" stroke-width="1"/>
<circle cx="970.6" cy="248.2" r="5.3" stroke="#111" stroke-width="1.6" fill="none"/>
<circle cx="970.6" cy="248.2" r="3" stroke="#111" stroke-width="1.8" fill="none"/>
<circle cx="970.6" cy="248.2" r="0.9" stroke="#111" stroke-width="0.9" fill="none"/>
<rect x="951.5" y="326.2" width="45.4" height="59.1" stroke="#111" stroke-width="1.6" fill="none" stroke-dasharray="9 4"/>
<line x1="625" y1="439.4" x2="749.8" y2="439.4" stroke="#000" stroke-width="1.9"/>
<line x1="625" y1="440.9" x2="749.8" y2="440.9" stroke="#555" stroke-width="0.7"/>
<rect x="642.8" y="400.4" width="42.2" height="35.2" stroke="#000" stroke-width="2.8" fill="#fff" rx="5"/>
<rect x="645.4" y="403" width="37" height="30" stroke="#222" stroke-width="0.9" fill="none" rx="4"/>
<rect x="648" y="405.2" width="32.4" height="24.8" stroke="#000" stroke-width="1.6" fill="none" rx="4"/>
<circle cx="663.4" cy="417.3" r="1.9" stroke="#000" stroke-width="1" fill="#fff"/>
<line x1="664.8" y1="418.7" x2="675.5" y2="428.5" stroke="#111" stroke-width="1"/>
<rect x="696.8" y="399.2" width="44.8" height="37.4" stroke="#111" stroke-width="1.7" fill="none" stroke-dasharray="9.5 4"/>
<line x1="755" y1="432.7" x2="794" y2="432.7" stroke="#000" stroke-width="2.6"/>
<rect x="755.9" y="439.8" width="37" height="72.7" stroke="#000" stroke-width="2.1" fill="#fff"/>
<line x1="759.4" y1="440" x2="759.4" y2="512" stroke="#000" stroke-width="1.2"/>
<rect x="704" y="499" width="10.8" height="10.7" stroke="none" stroke-width="0" fill="#8a8a8a"/>
<line x1="709.6" y1="509.7" x2="709.6" y2="606" stroke="#777" stroke-width="1" stroke-dasharray="14 4 2 4"/>
<rect x="704" y="606" width="10.8" height="10.3" stroke="none" stroke-width="0" fill="#8a8a8a"/>
<line x1="583.8" y1="418.6" x2="583.8" y2="551" stroke="#000" stroke-width="1.5"/>
<line x1="574.5" y1="418.6" x2="574.5" y2="486.8" stroke="#000" stroke-width="1.8"/>
<line x1="572.3" y1="486.8" x2="572.3" y2="550" stroke="#111" stroke-width="0.9"/>
<line x1="573.9" y1="486.8" x2="573.9" y2="550" stroke="#111" stroke-width="0.9"/>
<line x1="572.3" y1="486.8" x2="575.4" y2="486.8" stroke="#111" stroke-width="0.9"/>
<rect x="573.4" y="417.2" width="6.2" height="5.8" stroke="#000" stroke-width="1.6" fill="#fff"/>
<line x1="583.8" y1="513.8" x2="617" y2="513.8" stroke="#000" stroke-width="2.6"/>
<line x1="594.8" y1="418.6" x2="594.8" y2="512.3" stroke="#111" stroke-width="1.6" stroke-dasharray="22.8 11.4 1.2 11.8" stroke-dashoffset="11"/>
<line x1="583.8" y1="785.3" x2="583.8" y2="916" stroke="#000" stroke-width="1.5"/>
<line x1="574.5" y1="785.3" x2="574.5" y2="852.65" stroke="#000" stroke-width="1.8"/>
<line x1="572.3" y1="852.65" x2="572.3" y2="915" stroke="#111" stroke-width="0.9"/>
<line x1="573.9" y1="852.65" x2="573.9" y2="915" stroke="#111" stroke-width="0.9"/>
<line x1="572.3" y1="852.65" x2="575.4" y2="852.65" stroke="#111" stroke-width="0.9"/>
<rect x="573.4" y="783.9" width="6.2" height="5.8" stroke="#000" stroke-width="1.6" fill="#fff"/>
<line x1="583.8" y1="820.3" x2="617" y2="820.3" stroke="#000" stroke-width="2.6"/>
<line x1="594.8" y1="821.6" x2="594.8" y2="916" stroke="#111" stroke-width="1.6" stroke-dasharray="22.8 11.4 1.2 11.8" stroke-dashoffset="10.1"/>
<path d="M888.8,478.6 H931 V511 H998 V459.8 H1007.7 V521.5 H926.5 L888.8,483.8 Z" stroke="none" stroke-width="0" fill="#fff"/>
<path d="M889.95,478 V483.3 L926.6,520.35 H1006.55 V459.8" stroke="#000" stroke-width="2.3" fill="none" stroke-linejoin="miter"/>
<path d="M895.2,479.8 H929.4" stroke="#000" stroke-width="2.3" fill="none"/>
<line x1="929.4" y1="397" x2="929.4" y2="514.1" stroke="#000" stroke-width="2.2"/>
<path d="M928.3,512.9 H1000.2 V459.8" stroke="#000" stroke-width="2.3" fill="none" stroke-linejoin="miter"/>
<line x1="999.05" y1="460.9" x2="1007.7" y2="460.9" stroke="#000" stroke-width="2.3"/>
<rect x="1006.5" y="468.3" width="16.6" height="7.6" stroke="none" stroke-width="0" fill="#000"/>
<rect x="1005" y="470.4" width="16" height="3.4" stroke="none" stroke-width="0" fill="#fff"/>
<line x1="930.5" y1="480.3" x2="999" y2="480.3" stroke="#111" stroke-width="1"/>
<line x1="963.5" y1="480.3" x2="963.5" y2="513.6" stroke="#000" stroke-width="2.2"/>
<line x1="914.1" y1="394.8" x2="914.1" y2="480" stroke="#111" stroke-width="1.6" stroke-dasharray="31 10.5 1.5 10.5"/>
<line x1="930.3" y1="494.6" x2="943" y2="494.6" stroke="#111" stroke-width="1.6"/>
<line x1="949.3" y1="494.6" x2="950.8" y2="494.6" stroke="#111" stroke-width="1.6"/>
<line x1="957" y1="494.6" x2="963" y2="494.6" stroke="#111" stroke-width="1.6"/>
<path d="M902.9,486.5 H922.6 V505.9 Z" stroke="#000" stroke-width="2.1" fill="none" stroke-linejoin="miter"/>
<rect x="1102.8" y="353.8" width="11.6" height="24.2" stroke="#111" stroke-width="1.4" fill="#fff" rx="2.5"/>
<ellipse cx="1134" cy="366" rx="17.8" ry="14" stroke="#111" stroke-width="1.4" fill="#fff"/>
<path d="M1116.5,357 Q1113,366 1116.5,375" stroke="#111" stroke-width="1.3" fill="none"/>
<circle cx="1107.8" cy="366" r="1.7" stroke="#000" stroke-width="1.2" fill="none"/>
<path d="M1103.5,428.5 H1175.3 V467" stroke="#111" stroke-width="1.4" fill="#fff"/>
<rect x="1121" y="431.9" width="36" height="33.4" stroke="#111" stroke-width="1.4" fill="#fff"/>
<rect x="1123.8" y="434.7" width="30" height="21.6" stroke="#111" stroke-width="1.4" fill="none"/>
<circle cx="1138.8" cy="447.9" r="1.5" stroke="#000" stroke-width="1.2" fill="none"/>
<circle cx="1138.8" cy="461" r="1.5" stroke="#000" stroke-width="1.2" fill="none"/>
<rect x="1190.3" y="402.8" width="64.7" height="64.7" stroke="#111" stroke-width="1.4" fill="#fff"/>
<rect x="1193" y="405.6" width="59.8" height="59.7" stroke="#111" stroke-width="1.4" fill="none"/>
<line x1="1193" y1="405.6" x2="1252.8" y2="465.3" stroke="#111" stroke-width="1.3"/>
<line x1="1193" y1="465.3" x2="1252.8" y2="405.6" stroke="#111" stroke-width="1.3"/>
<path d="M1198.4,386.6 L1243.4,410.2 L1244.6,408 L1199.6,384.4 Z" stroke="#000" stroke-width="1" fill="#fff"/>
<line x1="1247" y1="411.5" x2="1254" y2="411.5" stroke="#000" stroke-width="1.5"/>
<line x1="1247" y1="416.5" x2="1254" y2="416.5" stroke="#000" stroke-width="1.5"/>
<line x1="1250.5" y1="411.5" x2="1250.5" y2="421" stroke="#000" stroke-width="1.2"/>
<line x1="1246" y1="421" x2="1254" y2="421" stroke="#000" stroke-width="1.5"/>
<path d="M1244,434 H1254 M1246,434 V438.5 H1248.8 V434" stroke="#000" stroke-width="1.2" fill="none"/>
<ellipse cx="733" cy="681.3" rx="14" ry="17.6" stroke="#111" stroke-width="1.4" fill="#fff"/>
<rect x="720.5" y="700.6" width="25.5" height="11.8" stroke="#111" stroke-width="1.4" fill="#fff" rx="2.5"/>
<path d="M724,698 Q733,702.5 742,698" stroke="#111" stroke-width="1.3" fill="none"/>
<circle cx="733" cy="707.3" r="1.8" stroke="#000" stroke-width="1.3" fill="none"/>
<rect x="699.4" y="720.8" width="65.6" height="63.6" stroke="#111" stroke-width="1.4" fill="#fff"/>
<rect x="702.8" y="723.6" width="59.4" height="58" stroke="#111" stroke-width="1.4" fill="none"/>
<line x1="702.8" y1="723.6" x2="762.2" y2="781.6" stroke="#111" stroke-width="1.3"/>
<line x1="702.8" y1="781.6" x2="762.2" y2="723.6" stroke="#111" stroke-width="1.3"/>
<path d="M706.2,731 L682.1,774.8 L684.3,776 L708.4,732.2 Z" stroke="#000" stroke-width="1.2" fill="#fff"/>
<path d="M683.4,776.6 Q690,781.5 699.4,781.3" stroke="#111" stroke-width="1.3" fill="none"/>
<line x1="705" y1="724.8" x2="722" y2="724.8" stroke="#000" stroke-width="1.6"/>
<line x1="709" y1="723.5" x2="709" y2="727.5" stroke="#000" stroke-width="1.2"/>
<line x1="717" y1="723.5" x2="717" y2="727.5" stroke="#000" stroke-width="1.2"/>
<path d="M730.5,722 V731 H733.5 V722" stroke="#000" stroke-width="1.2" fill="none"/>
<path d="M766,801 H725.6 V859" stroke="#111" stroke-width="1.4" fill="#fff"/>
<rect x="729" y="811.6" width="33.2" height="36.2" stroke="#111" stroke-width="1.4" fill="#fff"/>
<rect x="732.2" y="815" width="21.6" height="30" stroke="#111" stroke-width="1.4" fill="none"/>
<circle cx="745.3" cy="829.6" r="1.5" stroke="#000" stroke-width="1.2" fill="none"/>
<circle cx="757.5" cy="830" r="1.5" stroke="#000" stroke-width="1.2" fill="none"/>
<line x1="625" y1="859" x2="765" y2="859" stroke="#000" stroke-width="1.5"/>
<rect x="633.8" y="867" width="121.8" height="49.5" stroke="#111" stroke-width="1.2" fill="#fff" rx="4"/>
<rect x="641.8" y="874.6" width="106.2" height="34.2" stroke="#111" stroke-width="1.3" fill="none" rx="8.5"/>
<circle cx="732.8" cy="891.9" r="2.2" stroke="#000" stroke-width="1.4" fill="none"/>
<line x1="550" y1="22.2" x2="586.5" y2="22.2" stroke="#222" stroke-width="0.9"/>
<path d="M586.5,22.2 H868.5 V69.4" stroke="#111" stroke-width="1.4" fill="none"/>
<line x1="586.5" y1="22.2" x2="586.5" y2="69.4" stroke="#111" stroke-width="1.2"/>
<rect x="601" y="25.4" width="178" height="41.8" stroke="#111" stroke-width="1.2" fill="#fff" rx="20.9"/>
<circle cx="637.5" cy="46.6" r="16" stroke="#111" stroke-width="1.2" fill="none"/>
<rect x="591" y="42.8" width="42.8" height="7.5" stroke="#111" stroke-width="1.1" fill="#fff" rx="3.7"/>
<line x1="601" y1="42.8" x2="601" y2="50.3" stroke="#111" stroke-width="1"/>
<line x1="624" y1="42.8" x2="624" y2="50.3" stroke="#111" stroke-width="1"/>
<circle cx="636.2" cy="67.3" r="2.8" stroke="#000" stroke-width="1.3" fill="#fff"/>
<line x1="747" y1="19.5" x2="747" y2="27" stroke="#000" stroke-width="1.5"/>
<rect x="813.8" y="41" width="40.2" height="25.8" stroke="#111" stroke-width="1.1" fill="#fff"/>
<path d="M779,43.5 H783 Q789.5,43.5 789.5,50 V66 H783.5 V52.5 Q783.5,49.5 780.5,49.5 H779" stroke="#222" stroke-width="1" fill="#fff"/>
<line x1="783.5" y1="56" x2="789.5" y2="56" stroke="#333" stroke-width="0.8"/>
<line x1="783.5" y1="59" x2="789.5" y2="59" stroke="#333" stroke-width="0.8"/>
<line x1="783.5" y1="62.5" x2="789.5" y2="62.5" stroke="#333" stroke-width="0.8"/>
<line x1="789" y1="45.2" x2="813.8" y2="45.2" stroke="#222" stroke-width="0.9"/>
<line x1="789.5" y1="47.4" x2="813.8" y2="47.4" stroke="#222" stroke-width="0.9"/>
<rect x="829" y="66.8" width="9" height="2.6" stroke="#444" stroke-width="0.8" fill="#999"/>
<line x1="565" y1="21.6" x2="565" y2="67" stroke="#222" stroke-width="0.9"/>
<line x1="561.4" y1="18.8" x2="570.4" y2="27" stroke="#000" stroke-width="2.6"/>
<line x1="560.3" y1="65.6" x2="569.3" y2="75.8" stroke="#000" stroke-width="2.6"/>
<line x1="551" y1="67.2" x2="560" y2="67.2" stroke="#333" stroke-width="0.9"/>
<path d="M588.4,145.4 H636.6 V92.5" stroke="#222" stroke-width="0.9" fill="none"/>
<path d="M636.6,82 L633.5,92.6 H639.7 Z" stroke="none" stroke-width="0" fill="#000"/>
<line x1="636.6" y1="70" x2="636.6" y2="84" stroke="#000" stroke-width="1.2"/>
<line x1="751.9" y1="366" x2="811" y2="366" stroke="#333" stroke-width="0.9"/>
<line x1="762.6" y1="351" x2="762.6" y2="381" stroke="#333" stroke-width="0.9"/>
<line x1="799.7" y1="351" x2="799.7" y2="381" stroke="#333" stroke-width="0.9"/>
<line x1="757.1" y1="371.5" x2="768.1" y2="360.5" stroke="#000" stroke-width="2.4"/>
<line x1="794.2" y1="371.5" x2="805.2" y2="360.5" stroke="#000" stroke-width="2.4"/>
<line x1="822.3" y1="377.5" x2="822.3" y2="436.6" stroke="#333" stroke-width="0.9"/>
<line x1="793" y1="388.75" x2="838" y2="388.75" stroke="#333" stroke-width="0.9"/>
<line x1="805" y1="425.3" x2="838" y2="425.3" stroke="#333" stroke-width="0.9"/>
<line x1="827.8" y1="394.25" x2="816.8" y2="383.25" stroke="#000" stroke-width="2.4"/>
<line x1="827.8" y1="430.8" x2="816.8" y2="419.8" stroke="#000" stroke-width="2.4"/>
<line x1="867.5" y1="472.2" x2="867.5" y2="529.4" stroke="#333" stroke-width="0.9"/>
<line x1="852.5" y1="482.5" x2="882.5" y2="482.5" stroke="#333" stroke-width="0.9"/>
<line x1="852.5" y1="520" x2="896.6" y2="520" stroke="#333" stroke-width="0.9"/>
<line x1="873" y1="488" x2="862" y2="477" stroke="#000" stroke-width="2.4"/>
<line x1="873" y1="525.5" x2="862" y2="514.5" stroke="#000" stroke-width="2.4"/>
<line x1="878.75" y1="541.6" x2="936.9" y2="541.6" stroke="#333" stroke-width="0.9"/>
<line x1="889" y1="512.5" x2="889" y2="556.6" stroke="#333" stroke-width="0.9"/>
<line x1="926.6" y1="528.4" x2="926.6" y2="556.6" stroke="#333" stroke-width="0.9"/>
<line x1="883.5" y1="547.1" x2="894.5" y2="536.1" stroke="#000" stroke-width="2.4"/>
<line x1="921.1" y1="547.1" x2="932.1" y2="536.1" stroke="#000" stroke-width="2.4"/>
<circle cx="1047.9" cy="509.7" r="7.6" stroke="none" stroke-width="0" fill="#fff"/>
<path d="M1047.9,509.7 L1047.9,502.1 A7.6,7.6 0 0 1 1055.5,509.7 Z" stroke="none" stroke-width="0" fill="#999"/>
<path d="M1047.9,509.7 L1047.9,517.3 A7.6,7.6 0 0 1 1040.3,509.7 Z" stroke="none" stroke-width="0" fill="#999"/>
<circle cx="1047.9" cy="509.7" r="7.6" stroke="#999" stroke-width="1" fill="none"/>
<circle cx="658.5" cy="595.6" r="7.6" stroke="none" stroke-width="0" fill="#fff"/>
<path d="M658.5,595.6 L658.5,588 A7.6,7.6 0 0 1 666.1,595.6 Z" stroke="none" stroke-width="0" fill="#999"/>
<path d="M658.5,595.6 L658.5,603.2 A7.6,7.6 0 0 1 650.9,595.6 Z" stroke="none" stroke-width="0" fill="#999"/>
<circle cx="658.5" cy="595.6" r="7.6" stroke="#999" stroke-width="1" fill="none"/>
<line x1="1107.1" y1="49" x2="1107.1" y2="69.4" stroke="#111" stroke-width="1"/>
<line x1="1100" y1="56" x2="1114.4" y2="56" stroke="#111" stroke-width="1"/>
<rect x="1138.4" y="66.9" width="33.8" height="3.7" stroke="#555" stroke-width="0.8" fill="#999"/>
<rect x="1244.4" y="66.8" width="7.5" height="2.8" stroke="#000" stroke-width="1" fill="#999"/>
<path d="M1231.1,58 A15.3,15.3 0 1 1 1252.6,37.3 A9.3,9.3 0 0 1 1267.6,45.8 A17,17 0 0 1 1265.3,72.5 A12,12 0 0 1 1254,80 A14.5,14.5 0 0 1 1231.1,78.1 A12.3,12.3 0 0 1 1231.1,58 Z" stroke="#8a8a8a" stroke-width="1.1" fill="none"/>
<line x1="346.5" y1="936" x2="346.5" y2="956" stroke="#111" stroke-width="1"/>
<line x1="339.4" y1="949.4" x2="353.4" y2="949.4" stroke="#111" stroke-width="1"/>
<rect x="379.7" y="936" width="34.7" height="3" stroke="#555" stroke-width="0.8" fill="#999"/>
<circle cx="455.3" cy="938.6" r="2.8" stroke="#000" stroke-width="1.3" fill="#fff"/>
<line x1="455.6" y1="945" x2="455.6" y2="1047" stroke="#222" stroke-width="0.9"/>
<path d="M455.6,944.7 L452.2,962.5 H459 Z" stroke="none" stroke-width="0" fill="#000"/>
<path d="M461.3,938 V978.4 H623.4 V938" stroke="#222" stroke-width="1" fill="none"/>
<line x1="465" y1="938" x2="465" y2="978.4" stroke="#222" stroke-width="1"/>
<line x1="619.7" y1="938" x2="619.7" y2="978.4" stroke="#222" stroke-width="1"/>
<line x1="465" y1="949.75" x2="619.7" y2="949.75" stroke="#222" stroke-width="1"/>
<line x1="465" y1="964" x2="619.7" y2="964" stroke="#222" stroke-width="1"/>
<line x1="260.3" y1="351" x2="308" y2="368" stroke="#222" stroke-width="0.9"/>
<path d="M312,369.3 L291,366.7 L293.6,359.2 Z" stroke="none" stroke-width="0" fill="#000"/>
<circle cx="314" cy="370.3" r="2.7" stroke="#000" stroke-width="1.3" fill="#fff"/>
<rect x="1232.9" y="988" width="2.7" height="11" stroke="#000" stroke-width="1" fill="#fff"/>
<circle cx="993.1" cy="1000" r="19.7" stroke="#777" stroke-width="1" fill="none" stroke-dasharray="5 3"/>
<line x1="1030.6" y1="1047" x2="998" y2="1009" stroke="#222" stroke-width="0.9"/>
<path d="M996.5,1007.3 L1000.5,1017 L1006,1012 Z" stroke="none" stroke-width="0" fill="#000"/>
<rect x="941" y="600" width="34.3" height="33.7" stroke="#000" stroke-width="2.4" fill="none"/>
<line x1="957" y1="597.5" x2="961" y2="597.5" stroke="#fff" stroke-width="6"/>
<line x1="957" y1="636" x2="961" y2="636" stroke="#fff" stroke-width="6"/>
<line x1="943" y1="602" x2="973.3" y2="631.7" stroke="#666" stroke-width="0.8"/>
<line x1="943" y1="631.7" x2="973.3" y2="602" stroke="#666" stroke-width="0.8"/>
<path d="M837.5,665 H856.8 V612" stroke="#222" stroke-width="0.9" fill="none"/>
<path d="M856.8,594.7 L853.5,613.4 H860.1 Z" stroke="none" stroke-width="0" fill="#000"/>
<line x1="799.7" y1="521.6" x2="799.7" y2="584.6" stroke="#4c4c4c" stroke-width="0.8"/>
<line x1="1174" y1="488" x2="1174" y2="574" stroke="#111" stroke-width="1.4"/>
<line x1="1259.7" y1="471.25" x2="1259.7" y2="573.8" stroke="#000" stroke-width="2.2" stroke-dasharray="37.5 11 13 10.5"/>
<line x1="1234.75" y1="214" x2="1234.75" y2="574" stroke="#333" stroke-width="0.9" stroke-dasharray="30 12"/>
<line x1="1234.75" y1="213.6" x2="1256" y2="213.6" stroke="#333" stroke-width="0.9"/>
<line x1="1292" y1="400" x2="1292" y2="573" stroke="#333" stroke-width="0.9" stroke-dasharray="30 12"/>
<line x1="1262" y1="531.3" x2="1311" y2="531.3" stroke="#333" stroke-width="0.9"/>
<path d="M1260.5,531.3 L1282.2,527.8 V534.8 Z" stroke="none" stroke-width="0" fill="#000"/>
<line x1="1245.6" y1="538" x2="1245.6" y2="552" stroke="#222" stroke-width="0.9"/>
<path d="M1245.6,570.5 L1242.1,548 H1249.1 Z" stroke="none" stroke-width="0" fill="#000"/>
<line x1="1176" y1="545" x2="1232" y2="560.3" stroke="#1c1c1c" stroke-width="1" stroke-dasharray="24 11.1"/>
<path d="M1234,560.5 L1226,555.5 M1234,560.5 L1225.5,562" stroke="#333" stroke-width="0.9" fill="none"/>
<rect x="1157.6" y="488" width="5.4" height="23.5" stroke="#222" stroke-width="0.9" fill="#fff"/>
<line x1="1160.3" y1="488" x2="1160.3" y2="511.5" stroke="#444" stroke-width="0.8"/>
<line x1="993.5" y1="696.9" x2="993.5" y2="712" stroke="#1c1c1c" stroke-width="0.9"/>
<line x1="993.5" y1="724.7" x2="993.5" y2="733.1" stroke="#1c1c1c" stroke-width="0.9"/>
<line x1="993.5" y1="760.3" x2="993.5" y2="776.6" stroke="#1c1c1c" stroke-width="0.9"/>
<line x1="993.5" y1="697" x2="780" y2="910.5" stroke="#1c1c1c" stroke-width="1" stroke-dasharray="24 11.1"/>
<line x1="993.5" y1="777" x2="778" y2="992.5" stroke="#1c1c1c" stroke-width="1" stroke-dasharray="24 11.1"/>
<line x1="993.5" y1="777" x2="1211" y2="994.5" stroke="#1c1c1c" stroke-width="1" stroke-dasharray="24 11.1"/>
<line x1="856" y1="560" x2="870" y2="574" stroke="#1c1c1c" stroke-width="1" stroke-dasharray="24 11.1"/>
<line x1="337" y1="90" x2="749" y2="502" stroke="#1c1c1c" stroke-width="1" stroke-dasharray="24 11.1"/>
<line x1="337.5" y1="915.3" x2="750" y2="503" stroke="#1c1c1c" stroke-width="1" stroke-dasharray="24 11.1"/>
<line x1="1256" y1="90" x2="1009" y2="336" stroke="#1c1c1c" stroke-width="1" stroke-dasharray="24 11.1"/>
<line x1="800" y1="503" x2="966.5" y2="335.4" stroke="#1c1c1c" stroke-width="1" stroke-dasharray="24 11.1"/>
<line x1="800" y1="503" x2="993.5" y2="697" stroke="#1c1c1c" stroke-width="1" stroke-dasharray="24 11.1"/>
<line x1="1009" y1="336" x2="1234" y2="559" stroke="#1c1c1c" stroke-width="1" stroke-dasharray="24 11.1"/>
<line x1="966.5" y1="335.4" x2="1176" y2="544.9" stroke="#1c1c1c" stroke-width="1" stroke-dasharray="24 11.1"/>
<line x1="1009" y1="336" x2="966.5" y2="335.4" stroke="#1c1c1c" stroke-width="1"/>
<line x1="314" y1="67.2" x2="1277.8" y2="67.2" stroke="#2a2a2a" stroke-width="1" stroke-dasharray="23 12.2" stroke-dashoffset="2.5"/>
<line x1="313.8" y1="67.2" x2="313.8" y2="938" stroke="#2a2a2a" stroke-width="1" stroke-dasharray="23 12.2"/>
<line x1="313.8" y1="938" x2="752" y2="938" stroke="#2a2a2a" stroke-width="1" stroke-dasharray="23 12.2"/>
<line x1="1277.8" y1="67.2" x2="1277.8" y2="287" stroke="#2a2a2a" stroke-width="1" stroke-dasharray="23 12.2"/>
<line x1="258" y1="502.8" x2="800" y2="502.8" stroke="#2a2a2a" stroke-width="1" stroke-dasharray="57.4 8.4 16 12.2" stroke-dashoffset="74"/>
<line x1="800" y1="502.8" x2="1311" y2="502.8" stroke="#2a2a2a" stroke-width="1" stroke-dasharray="24 11.1" stroke-dashoffset="10.3"/>
<text x="463.4" y="59" font-size="14.1" textLength="28.65" lengthAdjust="spacingAndGlyphs" fill="#000" stroke="#000" stroke-width="0.3">1818</text>
<text x="533.8" y="59" font-size="14.1" textLength="15.4" lengthAdjust="spacingAndGlyphs" fill="#000" stroke="#000" stroke-width="0.3">AJ</text>
<text transform="translate(559.9 57.5) rotate(-90)" font-size="14.1" textLength="23.9" lengthAdjust="spacingAndGlyphs" fill="#000" stroke="#000" stroke-width="0.3">665</text>
<text x="465.4" y="102.75" font-size="14.1" textLength="23.8" lengthAdjust="spacingAndGlyphs" fill="#000" stroke="#000" stroke-width="0.3">TRB</text>
<text x="449" y="150" font-size="14.1" textLength="134.9" lengthAdjust="spacingAndGlyphs" fill="#000" stroke="#000" stroke-width="0.3">DOWNPIPE DIRECTLY</text>
<text x="466.8" y="165" font-size="14.1" textLength="117.1" lengthAdjust="spacingAndGlyphs" fill="#000" stroke="#000" stroke-width="0.3">INTO WATER TANK</text>
<text x="682.3" y="51.25" font-size="14.1" textLength="35.7" lengthAdjust="spacingAndGlyphs" fill="#000" stroke="#000" stroke-width="0.3">R.W.T</text>
<text x="814.65" y="57.8" font-size="14.1" textLength="36.45" lengthAdjust="spacingAndGlyphs" fill="#000" stroke="#000" stroke-width="0.3">PUMP</text>
<text x="879.7" y="58.4" font-size="14.1" textLength="14.5" lengthAdjust="spacingAndGlyphs" fill="#000" stroke="#000" stroke-width="0.3">AJ</text>
<text x="904.65" y="58.75" font-size="14.1" textLength="28.4" lengthAdjust="spacingAndGlyphs" fill="#000" stroke="#000" stroke-width="0.3">1809</text>
<text x="906.9" y="102.8" font-size="14.1" textLength="24.9" lengthAdjust="spacingAndGlyphs" fill="#000" stroke="#000" stroke-width="0.3">TRB</text>
<text x="670.65" y="122.5" font-size="14.1" textLength="127.05" lengthAdjust="spacingAndGlyphs" fill="#000" stroke="#000" stroke-width="0.3">JOINERY DOORS TO</text>
<text x="702.5" y="137.5" font-size="14.1" textLength="94.8" lengthAdjust="spacingAndGlyphs" fill="#000" stroke="#000" stroke-width="0.3">SITE MEASURE</text>
<text x="845.65" y="155" font-size="14.1" textLength="21.15" lengthAdjust="spacingAndGlyphs" fill="#000" stroke="#000" stroke-width="0.3">DW</text>
<text x="865.4" y="253.5" font-size="14.1" textLength="8.4" lengthAdjust="spacingAndGlyphs" fill="#000" stroke="#000" stroke-width="0.3">S</text>
<text transform="translate(992.1 147.5) rotate(-90)" font-size="14.1" textLength="50.3" lengthAdjust="spacingAndGlyphs" fill="#000" stroke="#000" stroke-width="0.3">PANTRY</text>
<text x="898.9" y="213.6" font-size="24.5" textLength="41" lengthAdjust="spacingAndGlyphs" fill="#000">KIT</text>
<text x="902.15" y="229" font-size="14.1" textLength="33.65" lengthAdjust="spacingAndGlyphs" fill="#000" stroke="#000" stroke-width="0.3">TILES</text>
<text x="979" y="214" font-size="14.1" textLength="18.7" lengthAdjust="spacingAndGlyphs" fill="#000" stroke="#000" stroke-width="0.3">RH</text>
<text transform="translate(950.8 255.35) rotate(-90)" font-size="14.1" textLength="27.15" lengthAdjust="spacingAndGlyphs" fill="#000" stroke="#000" stroke-width="0.3">UBO</text>
<text x="956.4" y="272.75" font-size="14.1" textLength="17.3" lengthAdjust="spacingAndGlyphs" fill="#000" stroke="#000" stroke-width="0.3">HP</text>
<text transform="translate(992.4 318.2) rotate(-90)" font-size="14.1" textLength="27.7" lengthAdjust="spacingAndGlyphs" fill="#000" stroke="#000" stroke-width="0.3">OHC</text>
<text x="957.8" y="361.25" font-size="14.1" textLength="29.6" lengthAdjust="spacingAndGlyphs" fill="#000" stroke="#000" stroke-width="0.3">REF.</text>
<text x="1061.9" y="52.75" font-size="14.1" textLength="39.9" lengthAdjust="spacingAndGlyphs" fill="#000" stroke="#000" stroke-width="0.3">G'MTR</text>
<text x="1107.3" y="47.1" font-size="14.1" textLength="23.9" lengthAdjust="spacingAndGlyphs" fill="#000" stroke="#000" stroke-width="0.3">TAP</text>
<text x="1135" y="44.7" font-size="14.1" textLength="40.4" lengthAdjust="spacingAndGlyphs" fill="#000" stroke="#000" stroke-width="0.3">M'BOX</text>
<text x="1142.15" y="60.6" font-size="14.1" textLength="27.65" lengthAdjust="spacingAndGlyphs" fill="#000" stroke="#000" stroke-width="0.3">PCD</text>
<text x="1188.1" y="64.75" font-size="14.1" textLength="15.8" lengthAdjust="spacingAndGlyphs" fill="#000" stroke="#000" stroke-width="0.3">AJ</text>
<text x="1244.15" y="56.9" font-size="14.1" textLength="18.85" lengthAdjust="spacingAndGlyphs" fill="#000" stroke="#000" stroke-width="0.3">DP</text>
<text transform="translate(1252.1 155) rotate(-90)" font-size="14.1" textLength="25.8" lengthAdjust="spacingAndGlyphs" fill="#000" stroke="#000" stroke-width="0.3">VEN</text>
<text transform="translate(1298.05 155.9) rotate(-90)" font-size="14.1" textLength="28.2" lengthAdjust="spacingAndGlyphs" fill="#000" stroke="#000" stroke-width="0.3">2407</text>
<text x="1286" y="173.1" font-size="14.1" textLength="14.5" lengthAdjust="spacingAndGlyphs" fill="#000" stroke="#000" stroke-width="0.3">AJ</text>
<text transform="translate(1252.1 215.2) rotate(-90)" font-size="14.1" textLength="26.4" lengthAdjust="spacingAndGlyphs" fill="#000" stroke="#000" stroke-width="0.3">VEN</text>
<text transform="translate(1298.05 216.2) rotate(-90)" font-size="14.1" textLength="28.4" lengthAdjust="spacingAndGlyphs" fill="#000" stroke="#000" stroke-width="0.3">0607</text>
<text transform="translate(1252.1 275.6) rotate(-90)" font-size="14.1" textLength="25.8" lengthAdjust="spacingAndGlyphs" fill="#000" stroke="#000" stroke-width="0.3">VEN</text>
<text transform="translate(1297.8 276.6) rotate(-90)" font-size="14.1" textLength="27.8" lengthAdjust="spacingAndGlyphs" fill="#000" stroke="#000" stroke-width="0.3">0607</text>
<text x="1294.7" y="292.8" font-size="14.1" textLength="14.5" lengthAdjust="spacingAndGlyphs" fill="#000" stroke="#000" stroke-width="0.3">AJ</text>
<text x="1075" y="195.6" font-size="24.5" textLength="113" lengthAdjust="spacingAndGlyphs" fill="#000">MASTER</text>
<text x="1061.3" y="217.8" font-size="24.5" textLength="140.1" lengthAdjust="spacingAndGlyphs" fill="#000">BEDROOM</text>
<text x="1105.4" y="232.8" font-size="14.1" textLength="51" lengthAdjust="spacingAndGlyphs" fill="#000" stroke="#000" stroke-width="0.3">CARPET</text>
<text x="1212.8" y="324.7" font-size="14.1" textLength="20.5" lengthAdjust="spacingAndGlyphs" fill="#000" stroke="#000" stroke-width="0.3">720</text>
<text x="1198.15" y="338.75" font-size="14.1" textLength="47.35" lengthAdjust="spacingAndGlyphs" fill="#000" stroke="#000" stroke-width="0.3">REMOV</text>
<text x="1198.15" y="353.75" font-size="14.1" textLength="48.25" lengthAdjust="spacingAndGlyphs" fill="#000" stroke="#000" stroke-width="0.3">HINGES</text>
<text transform="translate(1252.4 383.4) rotate(-90)" font-size="14.1" textLength="24.8" lengthAdjust="spacingAndGlyphs" fill="#000" stroke="#000" stroke-width="0.3">VEN</text>
<text transform="translate(1297.4 384.35) rotate(-90)" font-size="14.1" textLength="27.65" lengthAdjust="spacingAndGlyphs" fill="#000" stroke="#000" stroke-width="0.3">2407</text>
<text transform="translate(1310.9 401.8) rotate(-90)" font-size="14.1" textLength="61.1" lengthAdjust="spacingAndGlyphs" fill="#000" stroke="#000" stroke-width="0.3">GRADE 'A'</text>
<text x="1150.7" y="349.6" font-size="14.1" textLength="24.85" lengthAdjust="spacingAndGlyphs" fill="#000" stroke="#000" stroke-width="0.3">TRH</text>
<text x="1123.15" y="371.6" font-size="14.1" textLength="22.05" lengthAdjust="spacingAndGlyphs" fill="#000" stroke="#000" stroke-width="0.3">WC</text>
<text x="1147.4" y="399" font-size="24.5" textLength="54" lengthAdjust="spacingAndGlyphs" fill="#000">ENS</text>
<text x="1157.8" y="415" font-size="14.1" textLength="33.3" lengthAdjust="spacingAndGlyphs" fill="#000" stroke="#000" stroke-width="0.3">TILES</text>
<text x="1105.4" y="410.9" font-size="14.1" textLength="16.4" lengthAdjust="spacingAndGlyphs" fill="#000" stroke="#000" stroke-width="0.3">TR</text>
<text x="1194" y="440.9" font-size="14.1" textLength="27.7" lengthAdjust="spacingAndGlyphs" fill="#000" stroke="#000" stroke-width="0.3">SHR</text>
<text x="1129.15" y="447.25" font-size="14.1" textLength="17.9" lengthAdjust="spacingAndGlyphs" fill="#000" stroke="#000" stroke-width="0.3">VB</text>
<text x="432.4" y="258.1" font-size="24.5" textLength="88.7" lengthAdjust="spacingAndGlyphs" fill="#000">LIVING</text>
<text x="450.4" y="273.1" font-size="14.1" textLength="51" lengthAdjust="spacingAndGlyphs" fill="#000" stroke="#000" stroke-width="0.3">CARPET</text>
<text x="396.9" y="315.3" font-size="18.4" textLength="141.1" lengthAdjust="spacingAndGlyphs" fill="#000" stroke="#000" stroke-width="0.3">FFL + 440.600 AHD</text>
<text x="672.9" y="247.8" font-size="24.5" textLength="95.15" lengthAdjust="spacingAndGlyphs" fill="#000">DINING</text>
<text x="702.5" y="262.8" font-size="14.1" textLength="35.2" lengthAdjust="spacingAndGlyphs" fill="#000" stroke="#000" stroke-width="0.3">TILES</text>
<text x="770" y="361.6" font-size="14.1" textLength="22.05" lengthAdjust="spacingAndGlyphs" fill="#000" stroke="#000" stroke-width="0.3">503</text>
<text transform="translate(818.7 418.4) rotate(-90)" font-size="14.1" textLength="22" lengthAdjust="spacingAndGlyphs" fill="#000" stroke="#000" stroke-width="0.3">503</text>
<text transform="translate(863.05 512.2) rotate(-90)" font-size="14.1" textLength="22" lengthAdjust="spacingAndGlyphs" fill="#000" stroke="#000" stroke-width="0.3">503</text>
<text x="896.9" y="537.8" font-size="14.1" textLength="22" lengthAdjust="spacingAndGlyphs" fill="#000" stroke="#000" stroke-width="0.3">503</text>
<text x="651.9" y="420.6" font-size="14.1" textLength="6.5" lengthAdjust="spacingAndGlyphs" fill="#000" stroke="#000" stroke-width="0.3">T</text>
<text x="715.65" y="413.1" font-size="14.1" textLength="22.95" lengthAdjust="spacingAndGlyphs" fill="#000" stroke="#000" stroke-width="0.3">WM</text>
<text x="757.8" y="426.25" font-size="14.1" textLength="18.3" lengthAdjust="spacingAndGlyphs" fill="#000" stroke="#000" stroke-width="0.3">RA</text>
<text transform="translate(781.2 494.35) rotate(-90)" font-size="14.1" textLength="37.05" lengthAdjust="spacingAndGlyphs" fill="#000" stroke="#000" stroke-width="0.3">LINEN</text>
<text x="655.65" y="474" font-size="24.5" textLength="77.35" lengthAdjust="spacingAndGlyphs" fill="#000">L'DRY</text>
<text x="677.2" y="489" font-size="14.1" textLength="34.6" lengthAdjust="spacingAndGlyphs" fill="#000" stroke="#000" stroke-width="0.3">TILES</text>
<text x="733.4" y="482.5" font-size="14.1" textLength="21.15" lengthAdjust="spacingAndGlyphs" fill="#000" stroke="#000" stroke-width="0.3">720</text>
<text x="652.8" y="512.1" font-size="14.1" textLength="22" lengthAdjust="spacingAndGlyphs" fill="#000" stroke="#000" stroke-width="0.3">820</text>
<text x="642.5" y="552.8" font-size="14.1" textLength="60.5" lengthAdjust="spacingAndGlyphs" fill="#000" stroke="#000" stroke-width="0.3">PASSAGE</text>
<text x="647.8" y="567.8" font-size="14.1" textLength="50.1" lengthAdjust="spacingAndGlyphs" fill="#000" stroke="#000" stroke-width="0.3">CARPET</text>
<text x="648.4" y="582.9" font-size="14.1" textLength="21.8" lengthAdjust="spacingAndGlyphs" fill="#000" stroke="#000" stroke-width="0.3">S/D</text>
<text transform="translate(610.2 483.1) rotate(-90)" font-size="14.1" textLength="36.1" lengthAdjust="spacingAndGlyphs" fill="#000" stroke="#000" stroke-width="0.3">ROBE</text>
<text transform="translate(565.55 538.4) rotate(-90)" font-size="14.1" textLength="105.45" lengthAdjust="spacingAndGlyphs" fill="#000" stroke="#000" stroke-width="0.3">2 @ 820 SLIDERS</text>
<text transform="translate(304 540.6) rotate(-90)" font-size="14.1" textLength="26.7" lengthAdjust="spacingAndGlyphs" fill="#000" stroke="#000" stroke-width="0.3">1515</text>
<text transform="translate(351.4 540.2) rotate(-90)" font-size="14.1" textLength="25.4" lengthAdjust="spacingAndGlyphs" fill="#000" stroke="#000" stroke-width="0.3">BRB</text>
<text x="372.9" y="536.25" font-size="24.5" textLength="162.3" lengthAdjust="spacingAndGlyphs" fill="#000">BEDROOM 2</text>
<text x="428.4" y="551.25" font-size="14.1" textLength="51.4" lengthAdjust="spacingAndGlyphs" fill="#000" stroke="#000" stroke-width="0.3">CARPET</text>
<text x="294.7" y="586" font-size="14.1" textLength="15.1" lengthAdjust="spacingAndGlyphs" fill="#000" stroke="#000" stroke-width="0.3">AJ</text>
<text x="297.4" y="355.25" font-size="14.1" textLength="15.4" lengthAdjust="spacingAndGlyphs" fill="#000" stroke="#000" stroke-width="0.3">AJ</text>
<text x="299.3" y="150.3" font-size="14.1" textLength="13.1" lengthAdjust="spacingAndGlyphs" fill="#000" stroke="#000" stroke-width="0.3">AJ</text>
<text transform="translate(310.55 263.8) rotate(-90)" font-size="14.1" textLength="28" lengthAdjust="spacingAndGlyphs" fill="#000" stroke="#000" stroke-width="0.3">2127</text>
<text transform="translate(356.5 237.2) rotate(-90)" font-size="14.1" textLength="36" lengthAdjust="spacingAndGlyphs" fill="#000" stroke="#000" stroke-width="0.3">SLIDE</text>
<text transform="translate(356.5 299) rotate(-90)" font-size="14.1" textLength="36.05" lengthAdjust="spacingAndGlyphs" fill="#000" stroke="#000" stroke-width="0.3">SLIDE</text>
<text transform="translate(374.3 261.6) rotate(-90)" font-size="14.1" textLength="25.8" lengthAdjust="spacingAndGlyphs" fill="#000" stroke="#000" stroke-width="0.3">TRB</text>
<text x="240.29" y="615.8" font-size="14.1" textLength="64.11" lengthAdjust="spacingAndGlyphs" fill="#000">FAN IN WC</text>
<text x="225.09" y="631" font-size="14.1" textLength="79.51" lengthAdjust="spacingAndGlyphs" fill="#000">ADDITION TO</text>
<text x="217.08" y="646" font-size="14.1" textLength="87.82" lengthAdjust="spacingAndGlyphs" fill="#000">AS 3.8.5 TO BE</text>
<text x="265.36" y="660.5" font-size="14.1" textLength="38.84" lengthAdjust="spacingAndGlyphs" fill="#000">OR TO</text>
<text x="263.55" y="675.5" font-size="14.1" textLength="41.15" lengthAdjust="spacingAndGlyphs" fill="#000">SPACE</text>
<text x="606" y="606.9" font-size="14.1" textLength="21.05" lengthAdjust="spacingAndGlyphs" fill="#000" stroke="#000" stroke-width="0.3">720</text>
<text x="606" y="684.7" font-size="14.1" textLength="21.05" lengthAdjust="spacingAndGlyphs" fill="#000" stroke="#000" stroke-width="0.3">720</text>
<text x="645.4" y="724" font-size="14.1" textLength="20.65" lengthAdjust="spacingAndGlyphs" fill="#000" stroke="#000" stroke-width="0.3">720</text>
<text x="645.9" y="627.5" font-size="14.1" textLength="72.9" lengthAdjust="spacingAndGlyphs" fill="#000" stroke="#000" stroke-width="0.3">720 REMOV.</text>
<text x="658.4" y="642.5" font-size="14.1" textLength="48.9" lengthAdjust="spacingAndGlyphs" fill="#000" stroke="#000" stroke-width="0.3">HINGES</text>
<text x="712.8" y="647.2" font-size="24.5" textLength="43.6" lengthAdjust="spacingAndGlyphs" fill="#000">WC</text>
<text x="716.6" y="662.2" font-size="14.1" textLength="34.6" lengthAdjust="spacingAndGlyphs" fill="#000" stroke="#000" stroke-width="0.3">TILES</text>
<text transform="translate(762.3 685.3) rotate(-90)" font-size="14.1" textLength="25.8" lengthAdjust="spacingAndGlyphs" fill="#000" stroke="#000" stroke-width="0.3">TRH</text>
<text x="722.2" y="686" font-size="14.1" textLength="22" lengthAdjust="spacingAndGlyphs" fill="#000" stroke="#000" stroke-width="0.3">WC</text>
<text x="827.4" y="605" font-size="14.1" textLength="21.8" lengthAdjust="spacingAndGlyphs" fill="#000" stroke="#000" stroke-width="0.3">820</text>
<text x="779.8" y="669.7" font-size="14.1" textLength="56.6" lengthAdjust="spacingAndGlyphs" fill="#000" stroke="#000" stroke-width="0.3">UP 86mm</text>
<text x="924.65" y="622.25" font-size="14.1" textLength="66.45" lengthAdjust="spacingAndGlyphs" fill="#000" stroke="#000" stroke-width="0.3">MAN HOLE</text>
<text x="931.6" y="446" font-size="24.5" textLength="67" lengthAdjust="spacingAndGlyphs" fill="#000">W.I.R</text>
<text x="938.4" y="461.3" font-size="14.1" textLength="51.4" lengthAdjust="spacingAndGlyphs" fill="#000" stroke="#000" stroke-width="0.3">CARPET</text>
<text x="991" y="424.4" font-size="14.1" textLength="20.8" lengthAdjust="spacingAndGlyphs" fill="#000" stroke="#000" stroke-width="0.3">720</text>
<text x="1045.4" y="471.8" font-size="14.1" textLength="21.65" lengthAdjust="spacingAndGlyphs" fill="#000" stroke="#000" stroke-width="0.3">820</text>
<text x="1038.4" y="496.6" font-size="14.1" textLength="22.1" lengthAdjust="spacingAndGlyphs" fill="#000" stroke="#000" stroke-width="0.3">S/D</text>
<text x="1036.6" y="539.7" font-size="24.5" textLength="89.8" lengthAdjust="spacingAndGlyphs" fill="#000">ENTRY</text>
<text x="1064.65" y="553.4" font-size="14.1" textLength="33.65" lengthAdjust="spacingAndGlyphs" fill="#000" stroke="#000" stroke-width="0.3">TILES</text>
<text x="1134.8" y="533.1" font-size="14.1" textLength="22.6" lengthAdjust="spacingAndGlyphs" fill="#000" stroke="#000" stroke-width="0.3">820</text>
<text x="1126.9" y="548.1" font-size="14.1" textLength="37.9" lengthAdjust="spacingAndGlyphs" fill="#000" stroke="#000" stroke-width="0.3">SOLID</text>
<text x="1127.8" y="563.1" font-size="14.1" textLength="36.5" lengthAdjust="spacingAndGlyphs" fill="#000" stroke="#000" stroke-width="0.3">CORE</text>
<text x="1168.15" y="500.9" font-size="14.1" textLength="15.45" lengthAdjust="spacingAndGlyphs" fill="#000" stroke="#000" stroke-width="0.3">AJ</text>
<text x="1167.4" y="571.2" font-size="14.1" textLength="15.3" lengthAdjust="spacingAndGlyphs" fill="#000" stroke="#000" stroke-width="0.3">AJ</text>
<text x="1237.6" y="634.4" font-size="14.1" textLength="14.7" lengthAdjust="spacingAndGlyphs" fill="#000" stroke="#000" stroke-width="0.3">AJ</text>
<text transform="translate(1250.55 536.6) rotate(-90)" font-size="14.1" textLength="30.5" lengthAdjust="spacingAndGlyphs" fill="#000" stroke="#000" stroke-width="0.3">FALL</text>
<text transform="translate(1248.9 926.4) rotate(-90)" font-size="14.1" textLength="220.3" lengthAdjust="spacingAndGlyphs" fill="#000" stroke="#000" stroke-width="0.3">4800 WIDE AUTO PANEL LIFT DOOR</text>
<text x="1238.8" y="979" font-size="14.1" textLength="15.8" lengthAdjust="spacingAndGlyphs" fill="#000" stroke="#000" stroke-width="0.3">AJ</text>
<text x="1239.8" y="998.8" font-size="14.1" textLength="18" lengthAdjust="spacingAndGlyphs" fill="#000" stroke="#000" stroke-width="0.3">DP</text>
<text x="1303.8" y="769.4" font-size="14.1" textLength="15" lengthAdjust="spacingAndGlyphs" fill="#000" stroke="#000" stroke-width="0.3">W</text>
<text x="1303.8" y="783.5" font-size="14.1" textLength="9" lengthAdjust="spacingAndGlyphs" fill="#000" stroke="#000" stroke-width="0.3">L</text>
<text x="925.3" y="750.6" font-size="18.4" textLength="142" lengthAdjust="spacingAndGlyphs" fill="#000" stroke="#000" stroke-width="0.3">FFL + 440.514 AHD</text>
<text x="935" y="798.75" font-size="24.5" textLength="116.8" lengthAdjust="spacingAndGlyphs" fill="#000">GARAGE</text>
<text x="892.8" y="819" font-size="14.1" textLength="200.75" lengthAdjust="spacingAndGlyphs" fill="#000" stroke="#000" stroke-width="0.3">INFILL SLAB TO GARAGE FLOOR</text>
<text x="874.1" y="857.8" font-size="14.1" textLength="246.1" lengthAdjust="spacingAndGlyphs" fill="#000" stroke="#000" stroke-width="0.3">BUILDER TO PROVIDE EXTRA NOGGINS</text>
<text x="854" y="872.8" font-size="14.1" textLength="288.8" lengthAdjust="spacingAndGlyphs" fill="#000" stroke="#000" stroke-width="0.3">AS REQUIRED FOR PANEL LIFT DOOR CEILING</text>
<text x="860.9" y="962.1" font-size="14.1" textLength="112.8" lengthAdjust="spacingAndGlyphs" fill="#000" stroke="#000" stroke-width="0.3">SEE REINFORCED</text>
<text x="900.65" y="977.1" font-size="14.1" textLength="72.65" lengthAdjust="spacingAndGlyphs" fill="#000" stroke="#000" stroke-width="0.3">BRICK PIER</text>
<text x="885.65" y="991.6" font-size="14.1" textLength="87.65" lengthAdjust="spacingAndGlyphs" fill="#000" stroke="#000" stroke-width="0.3">DETAIL WD-03</text>
<text x="980.4" y="1031.5" font-size="14.1" textLength="15.4" lengthAdjust="spacingAndGlyphs" fill="#000" stroke="#000" stroke-width="0.3">AJ</text>
<text x="766.7" y="955.6" font-size="14.1" textLength="21.5" lengthAdjust="spacingAndGlyphs" fill="#000" stroke="#000" stroke-width="0.3">720</text>
<text x="758.4" y="970.5" font-size="14.1" textLength="38.1" lengthAdjust="spacingAndGlyphs" fill="#000" stroke="#000" stroke-width="0.3">SOLID</text>
<text x="759" y="985" font-size="14.1" textLength="36.4" lengthAdjust="spacingAndGlyphs" fill="#000" stroke="#000" stroke-width="0.3">CORE</text>
<text x="634.65" y="955" font-size="14.1" textLength="14.9" lengthAdjust="spacingAndGlyphs" fill="#000" stroke="#000" stroke-width="0.3">AJ</text>
<text x="679.65" y="957.25" font-size="14.1" textLength="28.05" lengthAdjust="spacingAndGlyphs" fill="#000" stroke="#000" stroke-width="0.3">1215</text>
<text x="661.3" y="972.25" font-size="14.1" textLength="63.25" lengthAdjust="spacingAndGlyphs" fill="#000" stroke="#000" stroke-width="0.3">OBSCURE</text>
<text x="662.2" y="986.9" font-size="14.1" textLength="61.4" lengthAdjust="spacingAndGlyphs" fill="#000" stroke="#000" stroke-width="0.3">GRADE 'A'</text>
<text x="645.9" y="1001.5" font-size="14.1" textLength="95.15" lengthAdjust="spacingAndGlyphs" fill="#000" stroke="#000" stroke-width="0.3">SAFETY GLASS</text>
<text x="501.9" y="994" font-size="14.1" textLength="88.6" lengthAdjust="spacingAndGlyphs" fill="#000" stroke="#000" stroke-width="0.3">CLOTHESLINE</text>
<text x="335.4" y="969.6" font-size="14.1" textLength="23.9" lengthAdjust="spacingAndGlyphs" fill="#000" stroke="#000" stroke-width="0.3">TAP</text>
<text x="378.4" y="953.5" font-size="14.1" textLength="37.15" lengthAdjust="spacingAndGlyphs" fill="#000" stroke="#000" stroke-width="0.3">H.W.S</text>
<text x="476.4" y="1054.8" font-size="14.1" textLength="190.4" lengthAdjust="spacingAndGlyphs" fill="#000" stroke="#000" stroke-width="0.3">90Ø PRESSURISED DOWNPIPE</text>
<text x="372.9" y="789.7" font-size="24.5" textLength="162.3" lengthAdjust="spacingAndGlyphs" fill="#000">BEDROOM 3</text>
<text x="428.4" y="804.7" font-size="14.1" textLength="51.4" lengthAdjust="spacingAndGlyphs" fill="#000" stroke="#000" stroke-width="0.3">CARPET</text>
<text x="294.7" y="839" font-size="14.1" textLength="15.1" lengthAdjust="spacingAndGlyphs" fill="#000" stroke="#000" stroke-width="0.3">AJ</text>
<text transform="translate(304 794) rotate(-90)" font-size="14.1" textLength="27.6" lengthAdjust="spacingAndGlyphs" fill="#000" stroke="#000" stroke-width="0.3">1515</text>
<text transform="translate(351.4 794) rotate(-90)" font-size="14.1" textLength="26.8" lengthAdjust="spacingAndGlyphs" fill="#000" stroke="#000" stroke-width="0.3">BRB</text>
<text transform="translate(610.2 875.6) rotate(-90)" font-size="14.1" textLength="35.15" lengthAdjust="spacingAndGlyphs" fill="#000" stroke="#000" stroke-width="0.3">ROBE</text>
<text transform="translate(565.55 899) rotate(-90)" font-size="14.1" textLength="105.4" lengthAdjust="spacingAndGlyphs" fill="#000" stroke="#000" stroke-width="0.3">2 @ 820 SLIDERS</text>
<text x="646.3" y="814" font-size="24.5" textLength="70.75" lengthAdjust="spacingAndGlyphs" fill="#000">BATH</text>
<text x="626" y="816" font-size="13.2" textLength="17" lengthAdjust="spacingAndGlyphs" fill="#000" stroke="#000" stroke-width="0.3">TR</text>
<text x="664.1" y="829" font-size="14.1" textLength="35.1" lengthAdjust="spacingAndGlyphs" fill="#000" stroke="#000" stroke-width="0.3">TILES</text>
<text x="719.4" y="772.25" font-size="14.1" textLength="27.65" lengthAdjust="spacingAndGlyphs" fill="#000" stroke="#000" stroke-width="0.3">SHR</text>
<text x="734.4" y="826.6" font-size="14.1" textLength="17.9" lengthAdjust="spacingAndGlyphs" fill="#000" stroke="#000" stroke-width="0.3">VB</text>
<text x="678.15" y="897.1" font-size="14.1" textLength="33.65" lengthAdjust="spacingAndGlyphs" fill="#000" stroke="#000" stroke-width="0.3">BATH</text>
<text x="683.4" y="913.4" font-size="14.1" textLength="25.2" lengthAdjust="spacingAndGlyphs" fill="#000" stroke="#000" stroke-width="0.3">VEN</text>
<rect x="382.5" y="287.5" width="170.25" height="43.2" stroke="#444" stroke-width="0.9" fill="none"/>
<rect x="388.1" y="292.8" width="159" height="32.45" stroke="#444" stroke-width="0.9" fill="none"/>
<rect x="911.25" y="722.25" width="169.75" height="43.35" stroke="#444" stroke-width="0.9" fill="none"/>
<rect x="916.5" y="727.9" width="159.2" height="32.4" stroke="#444" stroke-width="0.9" fill="none"/>
</g>
</svg>
</body></html>
